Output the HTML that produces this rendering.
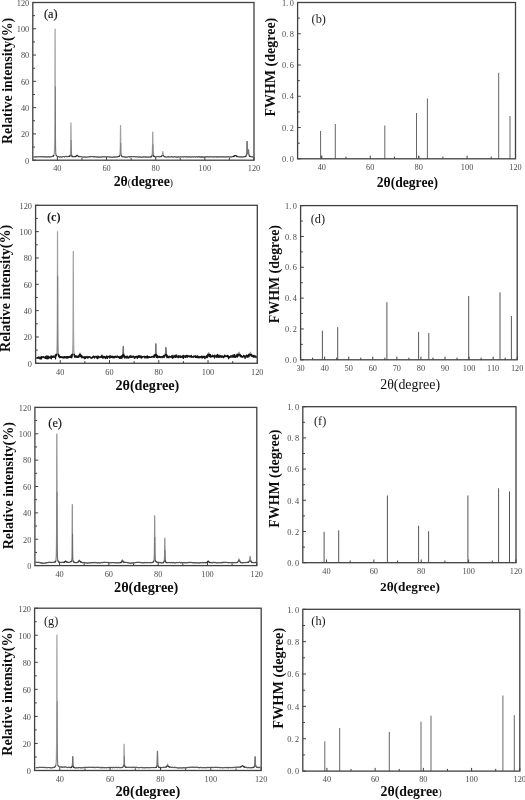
<!DOCTYPE html>
<html><head><meta charset="utf-8"><style>html,body{margin:0;padding:0;background:#fff;width:525px;height:800px;overflow:hidden}svg{display:block;filter:grayscale(1) blur(0.3px)}</style></head><body>
<svg width="525" height="800" viewBox="0 0 525 800">
<style>.tl{font-family:"Liberation Serif",serif;font-size:8.3px;fill:#4a4a4a}.ts{font-family:"Liberation Sans",sans-serif;font-size:7.6px;fill:#4a4a4a}.tt{font-family:"Liberation Serif",serif;font-weight:bold;fill:#0d0d0d}.ttr{font-family:"Liberation Serif",serif;fill:#111}.pl{font-family:"Liberation Serif",serif;fill:#1a1a1a}.pls{stroke:#1a1a1a;stroke-width:0.2px}</style>
<rect width="525" height="800" fill="#fff"/>
<clipPath id="cl1"><rect x="32.8" y="154.94" width="221.2" height="5.26"/></clipPath>
<defs><polyline id="cl1p" points="33.5,157.06 33.85,157.1 34.2,156.88 34.55,157.02 34.9,156.9 35.25,157.08 35.6,156.96 35.95,156.81 36.3,156.84 36.65,156.9 37,157.07 37.35,156.8 37.7,156.84 38.05,156.71 38.4,156.77 38.75,156.61 39.1,156.77 39.45,156.72 39.8,156.63 40.15,156.9 40.5,156.79 40.85,156.8 41.2,156.41 41.55,156.74 41.9,156.63 42.25,156.65 42.6,156.81 42.95,157.02 43.3,156.64 43.65,156.87 44,156.71 44.35,157.05 44.7,156.93 45.05,156.67 45.4,156.66 45.75,157.1 46.1,157.11 46.45,156.92 46.8,156.8 47.15,156.88 47.5,156.86 47.85,157.05 48.2,156.8 48.55,156.7 48.9,156.93 49.25,157.07 49.6,156.94 49.95,156.67 50.3,157.04 50.65,156.75 51,156.85 51.35,156.68 51.7,156.65 52.05,156.54 52.4,156.22 52.75,156.27 53.09,155.94 53.1,156.17 53.17,156.17 53.25,155.97 53.33,156.4 53.41,155.88 53.45,155.8 53.49,155.97 53.57,155.59 53.65,155.62 53.73,155.76 53.8,155.24 53.81,155.34 53.89,155.04 53.97,154.71 54.05,154.15 54.13,153.91 54.15,153.81 54.21,153.32 54.29,152.97 54.37,151.55 54.45,150.63 54.5,149.33 54.53,148.81 54.61,146.07 54.69,141.76 54.77,134.38 54.85,122.1 54.93,98.95 55.01,59.1 55.09,28.98 55.17,56.77 55.2,73.58 55.25,97.13 55.33,121.58 55.41,134.29 55.49,141.59 55.55,145.01 55.57,145.68 55.65,148.55 55.73,150.35 55.81,151.57 55.89,152.54 55.9,153.04 55.97,153.35 56.05,154.27 56.13,154.44 56.21,154.47 56.25,154.95 56.29,155.12 56.37,155.26 56.45,155.48 56.53,155.65 56.6,155.89 56.61,155.62 56.69,155.77 56.77,156.05 56.85,156.05 56.93,156.08 56.95,156.04 57.01,156.19 57.09,156.21 57.3,156.49 57.65,156.78 58,156.79 58.35,156.63 58.7,156.69 59.05,156.86 59.4,156.99 59.75,156.87 60.1,156.66 60.45,156.71 60.8,157.02 61.15,156.91 61.5,157.12 61.85,157.05 62.2,156.82 62.55,156.82 62.9,156.65 63.25,156.57 63.6,156.62 63.95,156.52 64.3,156.79 64.65,156.86 65,156.59 65.35,156.23 65.7,156.59 66.05,156.82 66.4,156.59 66.75,156.4 67.1,156.79 67.45,156.5 67.8,156.72 68.15,156.42 68.5,156.48 68.85,156.53 68.94,156.25 69.02,156.61 69.1,156.64 69.18,156.22 69.2,156.64 69.26,156.14 69.34,156.46 69.42,156.58 69.5,156.38 69.55,156.33 69.58,156.3 69.66,156.3 69.74,156.02 69.82,156.47 69.9,156.08 69.98,155.89 70.06,155.38 70.14,155.74 70.22,155.15 70.25,155.13 70.3,154.77 70.38,153.94 70.46,153.07 70.54,151.52 70.6,150.27 70.62,149.46 70.7,145.54 70.78,139.12 70.86,129.72 70.94,122.9 70.95,123.23 71.02,128.22 71.1,138.26 71.18,145.18 71.26,149.16 71.3,150.41 71.34,151.31 71.42,153.08 71.5,154.08 71.58,154.58 71.65,155.23 71.66,155.41 71.74,155.35 71.82,155.8 71.9,155.76 71.98,156.26 72,156.59 72.06,156.18 72.14,156.3 72.22,156.15 72.3,156.39 72.35,156.47 72.38,156.44 72.46,156.64 72.54,156.61 72.62,156.88 72.7,156.61 72.78,156.85 72.86,156.81 72.94,156.65 73.05,156.64 73.4,156.99 73.75,156.54 74.1,156.95 74.45,156.7 74.8,156.64 75.04,156.72 75.12,156.71 75.15,156.45 75.2,156.58 75.28,156.63 75.36,156.96 75.44,156.76 75.5,156.44 75.52,156.59 75.6,156.74 75.68,156.65 75.76,156.56 75.84,156.35 75.85,156.4 75.92,156.25 76,156.48 76.08,156.13 76.16,156.29 76.2,156.22 76.24,155.85 76.32,156.02 76.4,155.95 76.48,155.85 76.55,155.77 76.56,155.45 76.64,155.36 76.72,155.34 76.8,155.31 76.88,155.09 76.9,155.24 76.96,155.12 77.04,155.1 77.12,155.17 77.2,154.98 77.25,155.01 77.28,155.11 77.36,155.72 77.44,155.25 77.52,155.54 77.6,155.84 77.68,155.88 77.76,155.79 77.84,155.87 77.92,156 77.95,156.14 78,156.2 78.08,156.13 78.16,156.33 78.24,156.5 78.3,156.49 78.32,156.42 78.4,156.39 78.48,156.11 78.56,156.71 78.64,156.45 78.65,156.54 78.72,156.5 78.8,156.35 78.88,156.39 78.96,156.62 79,156.7 79.04,156.83 79.35,156.67 79.7,156.51 80.05,156.78 80.4,156.66 80.75,156.68 81.1,156.76 81.45,156.68 81.8,156.9 82.15,157.04 82.5,157.12 82.85,156.82 83.2,157.04 83.55,157.06 83.9,156.9 84.25,157.17 84.6,156.78 84.95,156.96 85.3,157.16 85.65,157.17 86,156.9 86.35,157.25 86.7,157.15 87.05,157.03 87.4,156.97 87.75,156.98 88.1,156.89 88.45,156.98 88.8,156.91 89.15,156.66 89.5,156.72 89.85,156.87 90.2,156.5 90.55,157.05 90.9,156.7 91.25,156.59 91.6,156.53 91.95,156.65 92.3,156.73 92.65,156.57 93,156.7 93.35,156.6 93.7,157.14 94.05,156.65 94.4,156.86 94.75,156.61 95.1,156.67 95.45,156.7 95.8,156.91 96.15,156.81 96.5,156.96 96.85,156.9 97.2,156.98 97.55,157.12 97.9,156.69 98.25,156.9 98.6,157.35 98.95,156.9 99.3,157.26 99.65,157.07 100,157.12 100.35,157.1 100.7,156.96 101.05,157.03 101.4,157.19 101.75,156.94 102.1,156.85 102.45,156.6 102.8,156.92 103.15,157.02 103.5,156.87 103.85,156.68 104.2,156.91 104.55,156.87 104.9,156.65 105.25,156.74 105.6,156.7 105.95,156.83 106.3,156.87 106.65,156.8 107,156.79 107.35,156.84 107.7,156.74 108.05,156.75 108.4,156.78 108.75,156.82 109.1,157.06 109.45,157.13 109.8,156.86 110.15,157.01 110.5,157.02 110.85,157.24 111.2,157.11 111.55,157.19 111.9,157.24 112.25,157.21 112.6,157.34 112.95,157.09 113.3,156.91 113.65,157.2 114,157.05 114.35,157.22 114.7,156.92 115.05,156.7 115.4,157.16 115.75,156.97 116.1,156.68 116.45,156.82 116.8,156.82 117.15,157.12 117.5,156.79 117.85,156.57 118.2,156.43 118.54,156.48 118.55,156.67 118.62,156.67 118.7,156.82 118.78,156.67 118.86,156.29 118.9,156.47 118.94,156.64 119.02,156.18 119.1,156.6 119.18,156.08 119.25,156.27 119.26,156.16 119.34,156.02 119.42,155.98 119.5,155.7 119.58,155.74 119.6,155.75 119.66,155.65 119.74,155.52 119.82,155.06 119.9,154.33 119.95,153.98 119.98,153.62 120.06,152.46 120.14,151.35 120.22,149.12 120.3,145.68 120.38,139.4 120.46,130.6 120.54,125.65 120.62,130.42 120.65,133.57 120.7,139.16 120.78,145.3 120.86,149.24 120.94,151.72 121,152.43 121.02,152.71 121.1,153.86 121.18,154.45 121.26,155.14 121.34,155.27 121.35,155.26 121.42,155.36 121.5,155.57 121.58,155.9 121.66,156.13 121.7,156.3 121.74,156.32 121.82,156.21 121.9,156.3 121.98,156.45 122.05,156.24 122.06,156.41 122.14,156.55 122.22,156.63 122.3,156.63 122.38,156.82 122.4,156.83 122.46,156.65 122.54,156.82 122.75,156.83 123.1,156.67 123.45,156.95 123.8,156.75 124.15,156.99 124.5,156.77 124.85,156.95 125.2,157.3 125.55,156.83 125.9,157.05 126.25,157.32 126.6,156.98 126.95,156.95 127.3,157.16 127.65,157.02 128,156.81 128.35,156.65 128.7,156.66 129.05,156.61 129.4,156.6 129.75,157.13 130.1,156.83 130.45,156.66 130.8,157.09 131.15,156.52 131.5,156.49 131.85,156.74 132.2,156.67 132.55,156.76 132.9,156.61 133.25,156.63 133.6,156.63 133.95,156.81 134.3,156.6 134.65,156.74 135,156.56 135.35,156.69 135.7,157 136.05,157.02 136.4,156.81 136.75,156.92 137.1,156.8 137.45,156.77 137.8,156.91 138.15,157.2 138.5,157.14 138.85,156.87 139.2,157.14 139.55,156.8 139.9,157 140.25,156.9 140.6,157.12 140.95,156.99 141.3,157.44 141.65,157 142,156.87 142.35,157.09 142.7,157.07 143.05,156.94 143.4,156.91 143.75,157.05 144.1,156.81 144.45,157.17 144.8,156.74 145.15,157.13 145.5,157.05 145.85,156.71 146.2,157.09 146.55,157.2 146.9,156.94 147.25,157.11 147.6,157.15 147.95,157.1 148.3,157.12 148.65,157.16 149,157.18 149.35,156.76 149.7,157.11 150.05,156.83 150.4,157.17 150.74,156.81 150.75,157.09 150.82,156.94 150.9,156.75 150.98,156.91 151.06,157.1 151.1,156.86 151.14,156.78 151.22,156.63 151.3,156.83 151.38,156.66 151.45,156.55 151.46,156.81 151.54,156.49 151.62,156.51 151.7,156.19 151.78,156.13 151.8,156.1 151.86,156.31 151.94,155.7 152.02,155.43 152.1,155.09 152.15,154.67 152.18,154.54 152.26,153.46 152.34,152.09 152.42,150.09 152.5,147.03 152.58,141.63 152.66,135.28 152.74,132.01 152.82,135.5 152.85,138.17 152.9,141.96 152.98,146.86 153.06,149.98 153.14,152.24 153.2,153.46 153.22,153.48 153.3,154.09 153.38,154.87 153.46,155.11 153.54,155.49 153.55,155.4 153.62,155.75 153.7,156.13 153.78,156.1 153.86,155.88 153.9,156.41 153.94,156.66 154.02,156.11 154.1,156.43 154.18,156.64 154.25,156.68 154.26,156.83 154.34,156.51 154.42,156.63 154.5,156.77 154.58,156.76 154.6,156.76 154.66,156.54 154.74,156.75 154.95,156.53 155.3,156.9 155.65,156.87 156,156.84 156.35,156.84 156.7,156.76 157.05,156.57 157.4,156.52 157.75,156.87 158.1,156.48 158.45,156.66 158.8,156.41 159.15,156.68 159.5,156.77 159.85,156.5 160.2,156.51 160.55,156.66 160.82,156.55 160.9,156.52 160.98,156.48 161.06,156.78 161.14,156.68 161.22,156.46 161.25,156.42 161.3,156.53 161.38,156.7 161.46,156.17 161.54,156.39 161.6,156.48 161.62,156.05 161.7,156.06 161.78,156.01 161.86,155.95 161.94,155.89 161.95,156.11 162.02,155.84 162.1,155.62 162.18,155.35 162.26,155.1 162.3,155.16 162.34,154.91 162.42,154.4 162.5,153.79 162.58,153.2 162.65,152.72 162.66,152.53 162.74,151.71 162.82,151.55 162.9,151.71 162.98,152.71 163,152.66 163.06,153.01 163.14,154.15 163.22,154.6 163.3,155.15 163.35,154.93 163.38,155.24 163.46,155.62 163.54,155.72 163.62,155.93 163.7,155.91 163.78,155.98 163.86,156.11 163.94,156.28 164.02,156.28 164.05,156.29 164.1,156.27 164.18,156.78 164.26,156.48 164.34,156.55 164.4,156.56 164.42,156.63 164.5,156.63 164.58,156.57 164.66,156.63 164.74,156.66 164.75,156.85 164.82,156.9 165.1,156.86 165.45,157.06 165.8,156.89 166.15,156.96 166.5,157.12 166.85,157.15 167.2,156.93 167.55,156.95 167.9,156.52 168.25,156.73 168.6,156.99 168.95,156.94 169.3,157.02 169.65,156.99 170,156.92 170.35,156.88 170.7,156.97 171.05,156.75 171.4,156.78 171.75,156.58 172.1,157.1 172.45,156.8 172.8,156.97 173.15,157.17 173.5,156.98 173.85,157.2 174.2,156.96 174.55,156.53 174.9,156.77 175.25,156.69 175.6,156.8 175.95,157.24 176.3,156.93 176.65,156.98 177,156.94 177.35,157.17 177.7,157.31 178.05,156.67 178.4,156.81 178.75,156.94 179.1,157.06 179.45,156.94 179.8,157.15 180.15,156.8 180.5,156.91 180.85,156.95 181.2,156.98 181.55,156.91 181.9,156.87 182.25,156.94 182.6,156.72 182.95,156.83 183.3,156.87 183.65,156.99 184,156.66 184.35,156.64 184.7,156.74 185.05,157.14 185.4,156.9 185.75,156.7 186.1,156.85 186.45,156.66 186.8,156.94 187.15,156.75 187.5,156.8 187.85,157.28 188.2,156.96 188.55,156.94 188.9,157.01 189.25,157.06 189.6,156.67 189.95,156.95 190.3,156.81 190.65,157.15 191,157.26 191.35,157.01 191.7,156.88 192.05,157.05 192.4,156.86 192.75,156.81 193.1,157.01 193.45,156.95 193.8,157.05 194.15,156.76 194.5,156.65 194.85,156.85 195.2,157.01 195.55,157.04 195.9,156.98 196.25,156.79 196.6,157.06 196.95,156.71 197.3,157.13 197.65,156.95 198,156.74 198.35,156.67 198.7,157.02 199.05,156.83 199.4,156.56 199.75,156.78 200.1,157.31 200.45,156.92 200.8,156.59 201.15,157.15 201.5,156.82 201.85,157.29 202.2,156.71 202.55,157.09 202.9,156.82 203.25,156.79 203.6,157.37 203.95,157.15 204.3,156.86 204.65,157.14 205,156.89 205.35,157.03 205.7,156.66 206.05,156.94 206.4,157 206.75,156.74 207.1,156.65 207.45,156.86 207.8,156.78 208.15,156.75 208.5,156.9 208.85,157.01 209.2,156.74 209.55,156.88 209.9,157.04 210.25,156.7 210.6,156.77 210.95,156.82 211.3,156.97 211.65,156.89 212,156.77 212.35,156.8 212.7,157.01 213.05,157.03 213.4,156.84 213.75,156.87 214.1,156.77 214.45,157.09 214.8,156.77 215.15,156.63 215.5,156.76 215.85,156.89 216.2,156.77 216.55,157.11 216.9,156.98 217.25,156.58 217.6,157.16 217.95,157.08 218.3,156.76 218.65,156.99 219,156.97 219.35,157.05 219.7,156.6 220.05,156.96 220.4,156.91 220.75,157.15 221.1,156.74 221.45,156.86 221.8,156.78 222.15,156.61 222.5,156.84 222.85,157.06 223.2,157.03 223.55,156.87 223.9,156.68 224.25,157.08 224.6,156.94 224.95,156.92 225.3,156.8 225.65,157.05 226,156.87 226.35,156.8 226.7,156.93 227.05,156.94 227.4,156.83 227.75,156.83 228.1,156.72 228.45,157.08 228.8,156.71 229.15,156.93 229.5,157.06 229.85,156.96 230.2,157.05 230.55,156.87 230.9,156.65 231.25,157.14 231.6,156.94 231.95,156.6 232.3,156.72 232.65,156.49 233,156.75 233.32,156.46 233.35,156.86 233.4,156.56 233.48,156.29 233.56,156.18 233.64,156.09 233.7,156.33 233.72,156.45 233.8,156.34 233.88,156.55 233.96,155.99 234.04,155.98 234.05,156.31 234.12,155.84 234.2,156.3 234.28,155.95 234.36,156.12 234.4,156.25 234.44,155.89 234.52,156.09 234.6,155.67 234.68,155.95 234.75,155.76 234.76,155.85 234.84,155.71 234.92,155.8 235,155.54 235.08,155.54 235.1,155.63 235.16,155.64 235.24,155.3 235.32,155.72 235.4,155.68 235.45,155.5 235.48,155.63 235.56,155.9 235.64,155.69 235.72,155.76 235.8,155.9 235.88,155.75 235.96,156 236.04,155.91 236.12,156.1 236.15,155.69 236.2,156.01 236.28,155.94 236.36,156.01 236.44,155.99 236.5,156.16 236.52,156.03 236.6,156.17 236.68,156.62 236.76,156.22 236.84,156.51 236.85,156.16 236.92,156.31 237,156.44 237.08,156.81 237.16,156.77 237.2,156.64 237.24,156.52 237.32,156.71 237.55,156.25 237.9,156.57 238.25,156.72 238.6,156.91 238.95,156.85 239.3,156.86 239.65,156.92 240,156.88 240.35,156.75 240.7,157.16 241.05,156.86 241.4,156.72 241.75,157.11 242.1,156.91 242.45,156.93 242.8,157.04 243.15,156.69 243.5,156.87 243.85,156.61 244.2,156.69 244.55,156.75 244.9,156.59 245.12,156.64 245.2,156.81 245.25,156.31 245.28,156.47 245.36,156.31 245.44,156.75 245.52,156.26 245.6,156.25 245.68,156.34 245.76,156.61 245.84,156.19 245.92,156.23 245.95,156.12 246,156.02 246.08,156.06 246.16,155.79 246.24,155.6 246.3,155.2 246.32,155.39 246.4,154.71 246.47,154.94 246.48,154.73 246.55,154.06 246.56,154.43 246.63,153.47 246.64,153.4 246.65,153.45 246.71,152.62 246.72,152.19 246.79,151.23 246.8,150.89 246.87,149.01 246.88,148.58 246.95,146.57 246.96,146.08 247,144.45 247.03,143.16 247.04,142.68 247.11,141.24 247.12,141.4 247.19,142.26 247.2,142.83 247.27,145.33 247.28,145.95 247.35,148.19 247.36,148.75 247.43,150.28 247.44,150.54 247.51,151.6 247.52,152.1 247.59,153.02 247.6,152.79 247.67,153.37 247.68,153.56 247.7,153.79 247.75,153.64 247.76,154.11 247.83,154 247.84,153.77 247.91,153.96 247.92,153.83 247.99,153.66 248,153.61 248.05,153.32 248.07,153.28 248.08,153.38 248.15,152.99 248.16,152.75 248.23,152.08 248.24,151.79 248.31,150.78 248.32,150.72 248.39,150.17 248.4,149.94 248.47,149.7 248.48,149.79 248.55,149.96 248.56,150.18 248.63,151.14 248.64,151.53 248.71,152.73 248.72,152.56 248.75,152.64 248.79,153.31 248.8,153.38 248.87,154.06 248.88,154.02 248.95,154.57 248.96,154.36 249.03,155 249.04,155.06 249.1,155.03 249.11,155.17 249.12,155.21 249.19,155.44 249.27,155.71 249.35,155.8 249.43,155.88 249.45,155.97 249.51,156.35 249.59,155.91 249.67,156.27 249.75,156.34 249.8,156.33 249.83,156.41 249.91,156.47 249.99,156.38 250.07,156.26 250.15,156.47 250.23,156.37 250.31,156.68 250.39,156.37 250.47,156.68 250.5,156.4 250.85,156.68 251.2,156.7 251.55,156.83 251.9,156.86 252.25,156.71 252.6,156.85 252.95,156.75 253.3,156.55" fill="none" stroke-linejoin="round"/></defs>
<use href="#cl1p" stroke="#a0a0a0" stroke-width="1.2"/>
<path d="M55.44 155.6V86.44M71.29 155.6V139.96M120.89 155.6V142.9M153.09 155.6V144.3" stroke="#000" stroke-opacity="0.28" stroke-width="1" fill="none"/>
<use href="#cl1p" stroke="#262626" stroke-width="0.8" clip-path="url(#cl1)"/>
<clipPath id="cl1s"><rect x="244.62" y="2.5" width="5" height="152.44"/></clipPath>
<use href="#cl1p" stroke="#707070" stroke-width="1.0" clip-path="url(#cl1s)"/>
<rect x="32.8" y="2.5" width="221.2" height="157.7" fill="none" stroke="#404040" stroke-width="1.3"/>
<path d="M57.38 160.2v-3.2M106.53 160.2v-3.2M155.69 160.2v-3.2M204.84 160.2v-3.2M254 160.2v-3.2M81.96 160.2v-2.2M131.11 160.2v-2.2M180.27 160.2v-2.2M229.42 160.2v-2.2" stroke="#404040" stroke-width="1" fill="none"/>
<text x="57.38" y="171.4" class="tl" text-anchor="middle">40</text>
<text x="106.53" y="171.4" class="tl" text-anchor="middle">60</text>
<text x="155.69" y="171.4" class="tl" text-anchor="middle">80</text>
<text x="204.84" y="171.4" class="tl" text-anchor="middle">100</text>
<text x="254" y="171.4" class="tl" text-anchor="middle">120</text>
<path d="M32.8 160.2h3.2M32.8 133.92h3.2M32.8 107.63h3.2M32.8 81.35h3.2M32.8 55.07h3.2M32.8 28.78h3.2M32.8 2.5h3.2M32.8 147.06h2.2M32.8 120.77h2.2M32.8 94.49h2.2M32.8 68.21h2.2M32.8 41.92h2.2M32.8 15.64h2.2" stroke="#404040" stroke-width="1" fill="none"/>
<text x="29.2" y="163.5" class="tl" text-anchor="end">0</text>
<text x="29.2" y="137.22" class="tl" text-anchor="end">20</text>
<text x="29.2" y="110.93" class="tl" text-anchor="end">40</text>
<text x="29.2" y="84.65" class="tl" text-anchor="end">60</text>
<text x="29.2" y="58.37" class="tl" text-anchor="end">80</text>
<text x="29.2" y="32.08" class="tl" text-anchor="end">100</text>
<text x="29.2" y="5.8" class="tl" text-anchor="end">120</text>
<text transform="translate(11.6,80.85) rotate(-90)" text-anchor="middle" class="tt" font-size="13.9">Relative intensity(%)</text>
<text x="113.7" y="186.3" class="tt" font-size="13.8"><tspan>2θ</tspan><tspan font-size="9.5" font-weight="normal">(</tspan><tspan>degree</tspan><tspan font-size="9.5" font-weight="normal">)</tspan></text>
<text x="44" y="17.7" class="pl pls" font-size="12.3">(a)</text>
<clipPath id="cl2"><rect x="35.6" y="353.82" width="221.7" height="9.48"/></clipPath>
<defs><polyline id="cl2p" points="36.6,358.57 36.9,357.65 37.2,357.61 37.5,357.71 37.8,357.45 38.1,358.37 38.4,357.54 38.7,357.32 39,356.98 39.3,358.02 39.6,357.71 39.9,358.76 40.2,357.75 40.5,358.85 40.8,358.32 41.1,356.64 41.4,358.79 41.7,356.8 42,357.09 42.3,357.49 42.6,356.96 42.9,356.9 43.2,356.54 43.5,357.37 43.8,357.59 44.1,357.59 44.4,357.83 44.7,357.21 45,357.69 45.3,356.47 45.6,358.41 45.9,357.9 46.2,357.81 46.5,358.57 46.8,355.95 47.1,358.8 47.4,357.41 47.7,357.58 48,356.15 48.3,358.56 48.6,356.55 48.9,357.74 49.2,357.37 49.5,357.71 49.8,356.84 50.1,358.01 50.4,357.3 50.7,357.01 51,356.02 51.3,358.79 51.6,356.19 51.9,356.54 52.2,357.46 52.5,356.91 52.8,357.38 53.1,355.96 53.4,356.86 53.7,357.1 54,357.05 54.3,356.98 54.6,356.89 54.9,357.26 55.2,355.21 55.5,357.66 55.52,358.76 55.6,356.41 55.68,356.36 55.76,355.94 55.8,356.28 55.84,356.2 55.92,355.79 56,355.25 56.08,356.05 56.1,355.97 56.16,354.33 56.24,355.07 56.32,355.85 56.4,353.4 56.48,354.09 56.56,354.57 56.64,354.43 56.7,352.96 56.72,353.51 56.8,352.74 56.88,351.64 56.96,349.34 57,347.09 57.04,346.65 57.12,343.2 57.2,334.98 57.28,323.27 57.3,318.37 57.36,299.89 57.44,262.09 57.52,231.68 57.6,257.99 57.68,298.59 57.76,321.37 57.84,333.72 57.9,340.24 57.92,341.96 58,346.29 58.08,349.39 58.16,351.26 58.2,351.7 58.24,352.59 58.32,353.28 58.4,354.75 58.48,354.03 58.5,354.34 58.56,355.45 58.64,356.55 58.72,355.33 58.8,354.83 58.88,356.23 58.96,356.23 59.04,356.43 59.1,355.72 59.12,356.78 59.2,355.64 59.28,356.58 59.36,355.85 59.4,356.48 59.44,356.69 59.52,357.58 59.7,357.18 60,357.06 60.3,356.57 60.6,356.93 60.9,357.63 61.2,356.95 61.5,356.62 61.8,357.4 62.1,357.62 62.4,357.61 62.7,356.83 63,357.02 63.3,357.98 63.6,357.12 63.9,357.67 64.2,357.83 64.5,356.5 64.8,356.75 65.1,357.74 65.4,357.18 65.7,356.87 66,357.59 66.3,357.22 66.6,356.67 66.9,358.25 67.2,356.83 67.5,356.53 67.8,356.66 68.1,357.85 68.4,356.73 68.7,357.49 69,356.53 69.3,356.49 69.6,356.72 69.9,357.34 70.2,357.2 70.5,356.21 70.8,357.31 71.1,356.3 71.29,356.21 71.37,356.69 71.4,354.91 71.45,356.41 71.53,354.98 71.61,357.66 71.69,357.73 71.7,355.6 71.77,355.75 71.85,356.26 71.93,355.97 72,357.05 72.01,356.2 72.09,356.28 72.17,355.52 72.25,354.51 72.3,354.85 72.33,354.5 72.41,354.75 72.49,353.99 72.57,352.85 72.6,352.74 72.65,351.01 72.73,350.87 72.81,346.76 72.89,345.08 72.9,343.15 72.97,338.99 73.05,326.78 73.13,307.93 73.2,279.03 73.21,274.14 73.29,251.45 73.37,276.26 73.45,310.03 73.5,321.51 73.53,328.71 73.61,339.1 73.69,344.61 73.77,346.83 73.8,350.24 73.85,350.25 73.93,352.21 74.01,352.68 74.09,355 74.1,354.16 74.17,353.86 74.25,353.84 74.33,354.17 74.4,356.04 74.41,355.47 74.49,355.81 74.57,356.84 74.65,357.04 74.7,355.68 74.73,356.06 74.81,356.43 74.89,355.63 74.97,357.17 75,356.19 75.05,356.58 75.13,356.68 75.21,356.38 75.29,356.63 75.3,356.57 75.6,356.7 75.9,355.67 76.2,357.2 76.5,356.34 76.8,356.61 77.1,357.22 77.4,356.43 77.7,357.46 77.94,356.07 78,357.35 78.02,357.13 78.1,356.57 78.18,356.2 78.26,356.12 78.3,356.11 78.34,356.81 78.42,357.26 78.5,356.22 78.58,356.33 78.6,357.14 78.66,355.82 78.74,356.26 78.82,356.94 78.9,355.92 78.98,356.97 79.06,356.55 79.14,355.56 79.2,356.73 79.22,355.63 79.3,356.35 79.38,354.75 79.46,355.47 79.5,354.73 79.54,355.7 79.62,354.66 79.7,353.54 79.78,353.63 79.8,355.1 79.86,353.17 79.94,353.13 80.02,354.02 80.1,352.99 80.18,354.84 80.26,354.46 80.34,353.95 80.4,354.02 80.42,354.1 80.5,355.91 80.58,356.58 80.66,355.34 80.7,356.62 80.74,355.85 80.82,356.74 80.9,355.32 80.98,355.6 81,355.78 81.06,356.2 81.14,356.26 81.22,356.56 81.3,356.17 81.38,356.31 81.46,356.21 81.54,356.84 81.6,355.33 81.62,356.41 81.7,355.71 81.78,355.78 81.86,357.26 81.9,357.8 81.94,355.87 82.2,357.02 82.5,356.77 82.8,357.05 83.1,356.84 83.4,357.75 83.7,357.07 84,357.34 84.3,357.08 84.6,358.64 84.9,356.6 85.2,356.95 85.5,358.33 85.8,357.71 86.1,357.23 86.4,356.85 86.7,357.28 87,356.39 87.3,357.3 87.6,357.98 87.9,357.77 88.2,356.83 88.5,357.72 88.8,356.76 89.1,356.63 89.4,356.91 89.7,356.61 90,357.38 90.3,357.26 90.6,357.62 90.9,357.62 91.2,358.23 91.5,357.55 91.8,357.87 92.1,358.09 92.4,357.04 92.7,356.82 93,357.33 93.3,356.2 93.6,356.47 93.9,356.4 94.2,357.48 94.5,358.06 94.8,356.71 95.1,356.87 95.4,356.59 95.7,356.8 96,356.24 96.3,357.26 96.6,356.63 96.9,357.66 97.2,358.59 97.5,357.36 97.8,356.08 98.1,358.16 98.4,356.38 98.7,357.49 99,357.29 99.3,356.99 99.6,356.87 99.9,357.63 100.2,356.89 100.5,356.66 100.8,356.39 101.1,357.42 101.4,355.88 101.7,355.63 102,355.28 102.3,357.74 102.6,356.73 102.9,358.05 103.2,356.57 103.5,356.45 103.8,357.56 104.1,357.85 104.4,356.68 104.7,356.4 105,357.34 105.3,357 105.6,358.5 105.9,357.32 106.2,356.78 106.5,356.79 106.8,355.87 107.1,357.68 107.4,358.44 107.7,356.68 108,357.38 108.3,356.83 108.6,356.56 108.9,356.66 109.2,356.12 109.5,356.19 109.8,358.19 110.1,357.15 110.4,355.79 110.7,357.38 111,356.48 111.3,357.15 111.6,357.39 111.9,356.07 112.2,356.42 112.5,357.26 112.8,356.49 113.1,357.95 113.4,357.55 113.7,356.48 114,357.04 114.3,357.76 114.6,356.76 114.9,356.84 115.2,356.21 115.5,356.43 115.8,357.25 116.1,357.4 116.4,357.18 116.7,357.26 117,356.16 117.3,356.1 117.6,356.27 117.9,356.94 118.2,357.37 118.5,356.64 118.8,357.48 119.1,357.12 119.4,358.39 119.7,357.59 120,356.37 120.3,358 120.6,358.31 120.9,357.42 121.2,356.19 121.29,356.32 121.37,357.5 121.45,357.56 121.5,357.31 121.53,357.84 121.61,357.18 121.69,357.38 121.77,358.12 121.8,357.52 121.85,357.29 121.93,357.65 122.01,357.77 122.09,356.38 122.1,355.72 122.17,357.1 122.25,357.11 122.33,356.4 122.4,356.78 122.41,357.13 122.49,355.54 122.57,356.93 122.65,356.46 122.7,356.2 122.73,356.19 122.81,355.25 122.89,353.98 122.97,352.34 123,352.34 123.05,351.71 123.13,350.45 123.21,347.39 123.29,346.78 123.3,346.23 123.37,346.46 123.45,349.19 123.53,351.61 123.6,353.4 123.61,353.09 123.69,354.1 123.77,355.54 123.85,355.78 123.9,355.11 123.93,356.91 124.01,356.37 124.09,357.04 124.17,355.41 124.2,356.07 124.25,356.2 124.33,356.36 124.41,356.5 124.49,356.55 124.5,357.79 124.57,356.62 124.65,356.43 124.73,357.78 124.8,356.32 124.81,356.42 124.89,357.88 124.97,357.2 125.05,357.1 125.1,357.25 125.13,356.65 125.21,357.75 125.29,357.06 125.4,356.76 125.7,356.42 126,356.84 126.3,357 126.6,356.35 126.9,358.09 127.2,356.13 127.5,356.92 127.8,357.51 128.1,356.95 128.4,357.85 128.7,357.98 129,356.83 129.3,357.12 129.6,356.13 129.9,357.2 130.2,357.47 130.5,357.26 130.8,355.51 131.1,356.64 131.4,357.08 131.7,357.35 132,357.44 132.3,356.85 132.6,356.48 132.9,356.02 133.2,356.05 133.5,356.64 133.8,357.27 134.1,357.41 134.4,358.38 134.7,357.53 135,356.59 135.3,357.09 135.6,356.62 135.9,357.74 136.2,356.25 136.5,356.64 136.8,356.79 137.1,356.54 137.4,358.26 137.7,357.14 138,357.35 138.3,355.55 138.6,356.85 138.9,357.05 139.2,356.14 139.5,357.39 139.8,355.75 140.1,357.15 140.4,356.73 140.7,357.3 141,356.17 141.3,358.14 141.6,356.28 141.9,357.29 142.2,356.74 142.5,357.56 142.8,356.68 143.1,356.74 143.4,356.5 143.7,356.72 144,356.55 144.3,356.34 144.6,357.28 144.9,357.83 145.2,357.92 145.5,356.66 145.8,357.38 146.1,356.46 146.4,357.14 146.7,357.85 147,356.6 147.3,355.92 147.6,357.32 147.9,357.82 148.2,357.75 148.5,356.6 148.8,357.56 149.1,357.43 149.4,356.69 149.7,357.12 150,357.03 150.3,357.44 150.6,357.47 150.9,356.92 151.2,356.9 151.5,356.59 151.8,357.28 152.1,356.7 152.4,356.59 152.7,356.82 153,356.47 153.3,356.15 153.6,356.65 153.81,356.7 153.89,357.38 153.9,356.52 153.97,356.79 154.05,356.91 154.13,357.24 154.2,356.3 154.21,354.99 154.29,356.36 154.37,356.57 154.45,356.31 154.5,356.96 154.53,356.49 154.61,356.95 154.69,356.89 154.77,356.25 154.8,356.22 154.85,356.4 154.93,356.75 155.01,355.93 155.09,356.65 155.1,355.41 155.17,355.94 155.25,355.4 155.33,354.44 155.4,354.02 155.41,355.14 155.49,353.4 155.57,351.32 155.65,349.66 155.7,348.42 155.73,345.62 155.81,343.71 155.89,345.24 155.97,348.83 156,349.91 156.05,351.37 156.13,352.31 156.21,353.95 156.29,354.59 156.3,355.27 156.37,354.65 156.45,355.82 156.53,355.44 156.6,357.46 156.61,355.93 156.69,356.28 156.77,356.61 156.85,355.54 156.9,356.16 156.93,356.54 157.01,356.84 157.09,355.3 157.17,356.08 157.2,356.15 157.25,357.1 157.33,355.76 157.41,356.27 157.49,356.83 157.5,356.73 157.57,357.74 157.65,356.25 157.73,357.41 157.8,356.15 157.81,356.99 158.1,357.13 158.4,356.5 158.7,356.61 159,357.49 159.3,356.79 159.6,356.34 159.9,356.89 160.2,357.6 160.5,356.86 160.8,357.32 161.1,357.06 161.4,356.63 161.7,356.69 162,356.78 162.3,357.71 162.6,356.38 162.9,356.73 163.2,356.85 163.5,356.46 163.8,355.28 163.91,357.37 163.99,357.57 164.07,356.01 164.1,357.02 164.15,355.64 164.23,357.13 164.31,356.78 164.39,355.9 164.4,355.84 164.47,356.13 164.55,356.09 164.63,356.44 164.7,356.61 164.71,356.45 164.79,355.44 164.87,355.75 164.95,356.12 165,355.87 165.03,355.49 165.11,355.14 165.19,355.84 165.27,355.58 165.3,355.21 165.35,353.52 165.43,354.65 165.51,353.37 165.59,354.32 165.6,352.62 165.67,352.94 165.75,350.98 165.83,348.84 165.9,347.65 165.91,347.42 165.99,348.18 166.07,350.13 166.15,352.32 166.2,351.21 166.23,353.09 166.31,353.81 166.39,353.54 166.47,354.67 166.5,355.05 166.55,355.4 166.63,354.62 166.71,356.72 166.79,356.77 166.8,356.07 166.87,357.58 166.95,356.85 167.03,355.67 167.1,356.76 167.11,356.36 167.19,356.06 167.27,357.32 167.35,356.42 167.4,357.02 167.43,357.34 167.51,356.83 167.59,356.71 167.67,356.96 167.7,357.14 167.75,356.1 167.83,355.99 167.91,356.39 168,356.83 168.3,357.5 168.6,357.38 168.9,357.6 169.2,356.76 169.5,356.31 169.8,356.32 170.1,356.94 170.4,357.17 170.7,356.8 171,356.83 171.3,356.51 171.6,355.92 171.9,357.32 172.2,355.49 172.5,358.2 172.8,357.98 173.1,357.78 173.4,357.44 173.7,356.91 174,355.39 174.3,357.18 174.6,355.99 174.9,356.93 175.2,356.59 175.5,357.34 175.8,355.19 176.1,356.7 176.4,357.08 176.7,355.2 177,356.57 177.3,356.43 177.6,356.81 177.9,357.27 178.2,357.68 178.5,356.87 178.8,355.72 179.1,356.52 179.4,356.92 179.7,356.13 180,357.44 180.3,355.95 180.6,356.87 180.9,357.4 181.2,356.42 181.5,356.52 181.8,357.08 182.1,356.7 182.4,356.19 182.7,355.89 183,357.34 183.3,358.48 183.6,355.4 183.9,356.88 184.2,356.95 184.5,356.36 184.8,356.89 185.1,355.89 185.4,357.35 185.7,356.64 186,357.3 186.3,355.46 186.6,356.59 186.9,355.69 187.2,355.49 187.5,357.16 187.8,356.52 188.1,355.91 188.4,356.35 188.7,356.48 189,355.85 189.3,355.82 189.6,356.83 189.9,356.56 190.2,356.08 190.5,356.39 190.8,356.47 191.1,357.33 191.4,355.49 191.7,356.83 192,356.54 192.3,356.77 192.6,356.74 192.9,356.72 193.2,357.39 193.5,356.63 193.8,356.11 194.1,356.65 194.4,356.46 194.7,356.62 195,356.92 195.3,355.76 195.6,357.38 195.9,356.68 196.2,356.25 196.5,356.71 196.8,357.57 197.1,357.58 197.4,355.83 197.7,357.45 198,356.8 198.3,356.42 198.6,356.69 198.9,357.89 199.2,357.95 199.5,356.76 199.8,357.19 200.1,356.84 200.4,356.6 200.7,356.54 201,357.52 201.3,357.74 201.6,356.03 201.9,357.06 202.2,357.42 202.5,357.97 202.8,356.32 203.1,357.51 203.4,357.38 203.7,356.3 204,356.51 204.3,356.35 204.6,357.55 204.9,358.59 205.2,357.35 205.5,356.89 205.8,357.1 206.1,356.05 206.4,356.33 206.53,357.22 206.61,356.14 206.69,356.58 206.7,356.79 206.77,355.72 206.85,357.51 206.93,355.7 207,355.63 207.01,357.68 207.09,356.41 207.17,356.34 207.25,356.91 207.3,356.51 207.33,356.64 207.41,355.98 207.49,356.3 207.57,357.24 207.6,355.01 207.65,355.13 207.73,356.14 207.81,354.88 207.89,353.97 207.9,356.29 207.97,355.39 208.05,355.27 208.13,354.38 208.2,354.78 208.21,355.48 208.29,353.56 208.37,354.46 208.45,353.68 208.5,352.63 208.53,354.62 208.61,354.43 208.69,353.64 208.77,354.44 208.8,354.08 208.85,354.53 208.93,352.86 209.01,354.46 209.09,354.83 209.1,354.99 209.17,354.96 209.25,356.43 209.33,355.67 209.4,355.1 209.41,356.4 209.49,355.68 209.57,355.86 209.65,356.21 209.7,354.27 209.73,355.47 209.81,355.78 209.89,356.57 209.97,356.04 210,356.31 210.05,356.19 210.13,356.02 210.21,354.55 210.29,355.34 210.3,355.1 210.37,355.34 210.45,354.4 210.53,356.71 210.6,357.13 210.9,356.19 211.2,356.18 211.5,356.34 211.8,356.78 212.1,355.92 212.4,355.23 212.7,356.22 213,356.52 213.3,355.58 213.6,356.57 213.9,356.6 214.2,356.17 214.5,357.88 214.8,355.14 215.1,356.46 215.4,356.06 215.7,356.2 216,356.15 216.3,357.3 216.6,355.26 216.9,356.06 217.2,356.24 217.5,354.37 217.8,357.28 218.1,355.96 218.4,356.51 218.7,357.43 219,355.16 219.3,357.45 219.6,356.33 219.9,356.47 220.2,356.29 220.5,357.02 220.8,355.49 221.1,356.22 221.4,357.22 221.7,357.17 222,356.18 222.3,357.12 222.6,356.07 222.9,356.14 223.2,356.74 223.5,357.63 223.8,357.23 224.1,356.14 224.4,356.73 224.7,355.18 225,356.71 225.3,356.18 225.6,356 225.9,356.41 226.2,356.28 226.5,355.84 226.8,356.62 227.1,356.32 227.4,356.8 227.7,355.26 228,356.48 228.3,356.06 228.6,358.58 228.9,356.95 229.2,357.38 229.5,356.61 229.8,356.93 230.1,357.32 230.4,356.81 230.7,356.08 231,355.9 231.3,356.94 231.6,355.87 231.9,356.96 232.2,356.12 232.5,357.08 232.8,355.8 233.1,354.94 233.4,356.63 233.7,355.61 234,357.35 234.3,356.79 234.6,354.59 234.9,356.36 235.2,355.95 235.5,357.32 235.8,356.22 236.1,356.67 236.4,355.3 236.7,356.35 237,354.19 237.07,356.55 237.15,355.57 237.23,357.05 237.3,355.95 237.31,354.87 237.39,355.68 237.47,356.4 237.55,355.14 237.6,354.79 237.63,355.09 237.71,354.64 237.79,356.12 237.87,353.87 237.9,354.56 237.95,356.33 238.03,353.57 238.11,354.96 238.19,354.15 238.2,355.77 238.27,354.73 238.35,355.33 238.43,353.37 238.5,353.9 238.51,354.33 238.59,353.77 238.67,352.59 238.75,353.67 238.8,352.68 238.83,353.78 238.91,353.99 238.99,353.14 239.07,352.99 239.1,352.68 239.15,352.21 239.23,353.18 239.31,353.27 239.39,352.69 239.4,352.93 239.47,353.41 239.55,353.42 239.63,355.23 239.7,354.34 239.71,355.06 239.79,354.44 239.87,353.81 239.95,355.7 240,354.1 240.03,355.14 240.11,355.07 240.19,355.38 240.27,354.75 240.3,355.7 240.35,356.7 240.43,355.23 240.51,355.65 240.59,355.23 240.6,355.26 240.67,356.52 240.75,355.67 240.83,355.79 240.9,355.97 240.91,355.87 240.99,355.78 241.07,356.4 241.2,356.21 241.5,355.6 241.8,357.03 242.1,356.44 242.4,357.1 242.7,357.15 243,356.73 243.3,356.34 243.6,355.44 243.9,356.55 244.2,355.78 244.5,356 244.8,356.28 245.1,358.33 245.4,356.17 245.7,356.17 246,356.86 246.3,356.04 246.6,355.12 246.9,356.81 247.2,356.34 247.5,355.36 247.8,357.09 248.1,356.53 248.4,355.57 248.48,355.11 248.56,354.91 248.64,355.18 248.7,354.14 248.72,355.39 248.8,356.46 248.88,355.69 248.96,355.11 249,355.25 249.04,356.74 249.12,355.15 249.2,355.86 249.28,355.39 249.3,354.27 249.36,355.27 249.44,355.5 249.52,355.03 249.6,355.24 249.68,353.32 249.76,353.96 249.84,353.72 249.9,354.63 249.92,354.55 250,353.77 250.08,355.17 250.16,352.89 250.2,354.33 250.24,353.35 250.32,353.11 250.4,353.82 250.48,353.1 250.5,352.9 250.56,352.19 250.64,353.33 250.72,352.58 250.8,353.67 250.88,354.32 250.96,353.83 251.04,354.93 251.1,354.62 251.12,354.35 251.2,354.17 251.28,354.88 251.36,356.15 251.4,354.4 251.44,355.19 251.52,355.6 251.6,356.03 251.68,355.19 251.7,355.37 251.76,355.2 251.84,355.79 251.92,354.75 252,355.99 252.08,355.59 252.16,355.77 252.24,355.24 252.3,356.42 252.32,356.17 252.4,356.15 252.6,356.51 252.9,356.59 253.2,357.01 253.5,355.77 253.8,355.32 254.1,356.97 254.4,355.83 254.7,357.11 255,356.89 255.3,356.57 255.6,356.27 255.9,356.05 256.2,357.61 256.5,357.19" fill="none" stroke-linejoin="round"/></defs>
<use href="#cl2p" stroke="#a0a0a0" stroke-width="1.2"/>
<path d="M57.87 356.06V275.73" stroke="#000" stroke-opacity="0.28" stroke-width="1" fill="none"/>
<use href="#cl2p" stroke="#141414" stroke-width="1.25" clip-path="url(#cl2)"/>
<clipPath id="cl2s"><rect x="120.79" y="205.3" width="5" height="148.52"/><rect x="153.31" y="205.3" width="5" height="148.52"/><rect x="163.41" y="205.3" width="5" height="148.52"/></clipPath>
<use href="#cl2p" stroke="#707070" stroke-width="1.0" clip-path="url(#cl2s)"/>
<rect x="35.6" y="205.3" width="221.7" height="158" fill="none" stroke="#404040" stroke-width="1.3"/>
<path d="M60.23 363.3v-3.2M109.5 363.3v-3.2M158.77 363.3v-3.2M208.03 363.3v-3.2M257.3 363.3v-3.2M84.87 363.3v-2.2M134.13 363.3v-2.2M183.4 363.3v-2.2M232.67 363.3v-2.2" stroke="#404040" stroke-width="1" fill="none"/>
<text x="60.23" y="374.5" class="tl" text-anchor="middle">40</text>
<text x="109.5" y="374.5" class="tl" text-anchor="middle">60</text>
<text x="158.77" y="374.5" class="tl" text-anchor="middle">80</text>
<text x="208.03" y="374.5" class="tl" text-anchor="middle">100</text>
<text x="257.3" y="374.5" class="tl" text-anchor="middle">120</text>
<path d="M35.6 363.3h3.2M35.6 336.97h3.2M35.6 310.63h3.2M35.6 284.3h3.2M35.6 257.97h3.2M35.6 231.63h3.2M35.6 205.3h3.2M35.6 350.13h2.2M35.6 323.8h2.2M35.6 297.47h2.2M35.6 271.13h2.2M35.6 244.8h2.2M35.6 218.47h2.2" stroke="#404040" stroke-width="1" fill="none"/>
<text x="32" y="366.6" class="tl" text-anchor="end">0</text>
<text x="32" y="340.27" class="tl" text-anchor="end">20</text>
<text x="32" y="313.93" class="tl" text-anchor="end">40</text>
<text x="32" y="287.6" class="tl" text-anchor="end">60</text>
<text x="32" y="261.27" class="tl" text-anchor="end">80</text>
<text x="32" y="234.93" class="tl" text-anchor="end">100</text>
<text x="32" y="208.6" class="tl" text-anchor="end">120</text>
<text transform="translate(10,288.4) rotate(-90)" text-anchor="middle" class="tt" font-size="14.0">Relative intensity(%)</text>
<text x="115.4" y="389.8" class="tt" font-size="14.2">2θ(degree)</text>
<text x="46.9" y="220.7" class="pl" font-size="12.3" font-weight="bold">(c)</text>
<clipPath id="cl3"><rect x="34.9" y="560.59" width="221.9" height="5.01"/></clipPath>
<defs><polyline id="cl3p" points="35.6,562.35 35.95,562 36.3,562.28 36.65,562.38 37,562.3 37.35,562.41 37.7,562.43 38.05,562.46 38.4,562.2 38.75,562.52 39.1,562.56 39.45,562.55 39.8,562.44 40.15,562.81 40.5,562.93 40.85,562.58 41.2,563.16 41.55,563.08 41.9,562.99 42.25,562.82 42.6,563.27 42.95,563.49 43.3,563.09 43.65,563.24 44,563.21 44.35,563.08 44.7,563.07 45.05,563.02 45.4,563.07 45.75,562.78 46.1,562.69 46.45,562.82 46.8,562.81 47.15,562.59 47.5,562.56 47.85,562.7 48.2,562.57 48.55,562.32 48.9,562.43 49.25,562.43 49.6,562.34 49.95,562.36 50.3,562.35 50.65,562.61 51,562.14 51.35,562.37 51.7,562.53 52.05,562.32 52.4,562.44 52.75,562.5 53.1,562.38 53.45,562.23 53.8,562.45 54.15,562.27 54.5,562.11 54.84,562.38 54.85,562.31 54.92,562.09 55,562.36 55.08,562.1 55.16,561.81 55.2,561.8 55.24,561.81 55.32,562.03 55.4,561.33 55.48,561.42 55.55,561.23 55.56,561.24 55.64,561.3 55.72,560.99 55.8,560.62 55.88,559.78 55.9,560.02 55.96,559.52 56.04,558.81 56.12,557.76 56.2,556.47 56.25,555.43 56.28,554.86 56.36,552.38 56.44,547.7 56.52,540.67 56.6,528.07 56.68,504.96 56.76,465.27 56.84,434.08 56.92,461.5 56.95,478.24 57,502.31 57.08,526.7 57.16,539.6 57.24,547.13 57.3,550.57 57.32,551.61 57.4,554.42 57.48,556.42 57.56,557.72 57.64,558.97 57.65,558.91 57.72,559.55 57.8,559.82 57.88,560.27 57.96,560.55 58,560.64 58.04,561.02 58.12,561.06 58.2,561.13 58.28,561.54 58.35,561.51 58.36,561.69 58.44,561.99 58.52,561.86 58.6,562.06 58.68,562.01 58.7,562.1 58.76,562.04 58.84,562.41 59.05,561.96 59.4,562.16 59.75,562.45 60.1,562.55 60.45,562.44 60.8,562.35 61.15,562.38 61.5,562.37 61.85,562.67 62.2,562.55 62.55,562.21 62.9,562.33 63.25,562.54 63.6,562.42 63.72,562.48 63.8,562.41 63.88,562.11 63.95,562.28 63.96,562.1 64.04,562.21 64.12,562.41 64.2,562.28 64.28,561.86 64.3,562.27 64.36,562.28 64.44,561.95 64.52,562.07 64.6,562.05 64.65,561.82 64.68,562.24 64.76,561.9 64.84,562.04 64.92,562.03 65,561.88 65.08,561.54 65.16,561.62 65.24,561.76 65.32,561.57 65.35,561.18 65.4,561.19 65.48,561.4 65.56,560.86 65.64,561.19 65.7,561.28 65.72,561.14 65.8,561.01 65.88,560.96 65.96,561.11 66.04,561.38 66.05,561.41 66.12,561.61 66.2,561.52 66.28,561.68 66.36,561.65 66.4,561.89 66.44,561.82 66.52,561.94 66.6,562.04 66.68,562.1 66.75,562.11 66.76,562.14 66.84,561.95 66.92,562.04 67,562.27 67.08,562.05 67.1,562.08 67.16,561.94 67.24,562.19 67.32,562.21 67.4,562.29 67.45,562.19 67.48,562.14 67.56,562.2 67.64,562.26 67.72,562.16 67.8,562.23 68.15,562.24 68.5,562.4 68.85,562.25 69.2,562.4 69.55,562.36 69.9,562.18 70.25,561.86 70.3,561.99 70.38,562.1 70.46,562.1 70.54,561.92 70.6,561.84 70.62,561.85 70.7,562 70.78,561.9 70.86,561.91 70.94,561.84 70.95,561.91 71.02,561.75 71.1,561.91 71.18,561.66 71.26,561.29 71.3,561.39 71.34,561.09 71.42,561.09 71.5,560.65 71.58,560.13 71.65,559.82 71.66,559.7 71.74,558.44 71.82,557.64 71.9,555.73 71.98,552.54 72,551.34 72.06,546.82 72.14,536.13 72.22,518.2 72.3,504.63 72.35,510.04 72.38,517.26 72.46,535.6 72.54,546.47 72.62,552.15 72.7,555.53 72.78,557.42 72.86,558.67 72.94,559.67 73.02,559.97 73.05,560.51 73.1,560.78 73.18,561.09 73.26,561.13 73.34,561.51 73.4,561.71 73.42,561.59 73.5,561.63 73.58,561.91 73.66,562.02 73.74,561.92 73.75,561.94 73.82,562 73.9,562.29 73.98,562.2 74.06,562.23 74.1,562.54 74.14,562.16 74.22,562.34 74.3,562.43 74.45,562.13 74.8,562.49 75.15,562.66 75.5,562.6 75.85,562.53 76.2,562.48 76.55,562.58 76.9,562.64 77.25,562.54 77.28,562.55 77.36,562.55 77.44,562.39 77.52,562.42 77.6,562.32 77.68,562.4 77.76,562.36 77.84,562.23 77.92,562.2 77.95,561.98 78,562.22 78.08,562 78.16,561.97 78.24,562.05 78.3,561.71 78.32,561.76 78.4,561.97 78.48,561.49 78.56,561.31 78.64,561.4 78.65,561.05 78.72,561.12 78.8,561.12 78.88,560.72 78.96,560.68 79,560.73 79.04,560.77 79.12,560.32 79.2,560.37 79.28,560.15 79.35,560.2 79.36,560.33 79.44,560.4 79.52,560.21 79.6,560.36 79.68,560.65 79.7,560.84 79.76,561.04 79.84,561.12 79.92,560.99 80,561.29 80.05,561.46 80.08,561.63 80.16,561.55 80.24,561.79 80.32,561.75 80.4,561.73 80.48,561.75 80.56,561.93 80.64,562.05 80.72,562.01 80.75,561.82 80.8,562.03 80.88,562.31 80.96,561.94 81.04,562.15 81.1,561.73 81.12,562.27 81.2,562.24 81.28,562.29 81.45,562.24 81.8,562.44 82.15,562.61 82.5,562.72 82.85,562.53 83.2,562.63 83.55,562.68 83.9,562.37 84.25,562.6 84.6,562.6 84.95,562.86 85.3,562.8 85.65,562.91 86,562.94 86.35,562.84 86.7,562.89 87.05,562.94 87.4,562.97 87.75,563.18 88.1,563.08 88.45,562.92 88.8,563 89.15,563.02 89.5,562.84 89.85,562.97 90.2,562.9 90.55,562.66 90.9,562.78 91.25,562.51 91.6,562.59 91.95,562.52 92.3,562.45 92.65,562.88 93,562.58 93.35,562.74 93.7,562.63 94.05,562.59 94.4,562.42 94.75,562.61 95.1,562.41 95.45,562.73 95.8,562.69 96.15,562.71 96.5,562.62 96.85,562.79 97.2,562.89 97.55,562.87 97.9,563.04 98.25,562.69 98.6,562.77 98.95,562.81 99.3,562.83 99.65,562.93 100,562.89 100.35,562.7 100.7,562.89 101.05,562.85 101.4,562.5 101.75,562.46 102.1,562.59 102.45,562.52 102.8,562.53 103.15,562.33 103.5,562.55 103.85,562.45 104.2,562.37 104.55,562.23 104.9,562.44 105.25,562.37 105.6,562.47 105.95,562.5 106.3,562.51 106.65,562.42 107,562.33 107.35,562.56 107.7,562.57 108.05,562.56 108.4,562.48 108.75,562.46 109.1,562.74 109.45,562.54 109.8,562.74 110.15,562.52 110.5,562.75 110.85,562.78 111.2,562.73 111.55,562.65 111.9,562.77 112.25,562.61 112.6,562.62 112.95,562.63 113.3,562.61 113.65,562.53 114,562.75 114.35,562.66 114.7,562.67 115.05,562.95 115.4,562.63 115.75,562.8 116.1,562.81 116.45,562.79 116.8,562.73 117.15,562.72 117.5,562.71 117.85,562.88 118.2,562.7 118.55,562.74 118.9,562.85 119.25,562.79 119.6,562.66 119.95,562.68 120.3,562.59 120.43,562.65 120.51,562.49 120.59,562.33 120.65,562.55 120.67,562.81 120.75,562.35 120.83,562.63 120.91,562.71 120.99,562.8 121,562.43 121.07,562.31 121.15,562.28 121.23,562.41 121.31,562.11 121.35,562.28 121.39,562.31 121.47,562.15 121.55,562.03 121.63,561.94 121.7,561.78 121.71,562.11 121.79,561.45 121.87,561.54 121.95,561.15 122.03,561.07 122.05,560.87 122.11,560.69 122.19,560.56 122.27,560.02 122.35,559.78 122.4,559.95 122.43,560.07 122.51,559.95 122.59,560.17 122.67,560.32 122.75,560.64 122.83,560.71 122.91,561.09 122.99,561.42 123.07,561.54 123.1,562.01 123.15,561.83 123.23,561.96 123.31,561.95 123.39,561.97 123.45,562.04 123.47,561.96 123.55,562.23 123.63,562.15 123.71,562.24 123.79,562.26 123.8,562.22 123.87,562.32 123.95,562.28 124.03,562.34 124.11,562.22 124.15,562.37 124.19,562.33 124.27,562.04 124.35,562.31 124.43,562.34 124.5,562.27 124.85,562.58 125.2,562.38 125.55,562.41 125.9,562.48 126.25,562.44 126.6,562.5 126.95,562.49 127.3,562.77 127.65,562.68 128,562.86 128.35,562.67 128.7,562.86 129.05,563.1 129.4,562.95 129.75,563.14 130.1,562.91 130.45,563.11 130.8,563.37 131.15,563.14 131.5,562.95 131.85,563.03 132.2,563.14 132.55,562.94 132.9,562.92 133.25,562.76 133.6,562.79 133.95,562.81 134.3,562.91 134.65,562.71 135,562.66 135.35,562.64 135.7,562.54 136.05,562.7 136.4,562.43 136.75,562.47 137.1,562.4 137.45,562.44 137.8,562.45 138.15,562.37 138.5,562.3 138.85,562.45 139.2,562.37 139.55,562.53 139.9,562.4 140.25,562.47 140.6,562.67 140.95,562.37 141.3,562.66 141.65,562.56 142,562.76 142.35,562.84 142.7,562.54 143.05,562.82 143.4,562.92 143.75,562.68 144.1,562.85 144.45,562.67 144.8,562.4 145.15,562.69 145.5,562.58 145.85,562.55 146.2,562.58 146.55,562.62 146.9,562.4 147.25,562.6 147.6,562.55 147.95,562.58 148.3,562.76 148.65,562.55 149,562.59 149.35,562.52 149.7,562.52 150.05,562.41 150.4,562.86 150.75,562.68 151.1,562.66 151.45,562.7 151.8,562.5 152.15,562.51 152.5,562.41 152.68,562.58 152.76,562.46 152.84,562.31 152.85,562.36 152.92,562.34 153,562.23 153.08,562.2 153.16,562.24 153.2,561.85 153.24,562.12 153.32,561.87 153.4,561.78 153.48,561.61 153.55,561.69 153.56,561.73 153.64,561.37 153.72,561.17 153.8,561.24 153.88,560.92 153.9,560.54 153.96,560.15 154.04,559.5 154.12,558.5 154.2,557.36 154.25,555.73 154.28,555.08 154.36,551.76 154.44,546.36 154.52,537.25 154.6,523.51 154.68,515.91 154.76,524.61 154.84,537.94 154.92,546.86 154.95,549.38 155,552.27 155.08,555.35 155.16,557.4 155.24,558.63 155.3,559.17 155.32,559.19 155.4,560.08 155.48,560.4 155.56,560.99 155.64,561.16 155.65,561.09 155.72,561.23 155.8,561.6 155.88,561.52 155.96,561.69 156,561.58 156.04,561.67 156.12,561.8 156.2,561.98 156.28,561.95 156.35,562.14 156.36,562.14 156.44,562.31 156.52,562.27 156.6,562.3 156.68,562.17 156.7,562.15 157.05,562.42 157.4,562.31 157.75,562.28 158.1,562.25 158.45,562.41 158.8,562.4 159.15,562.52 159.5,562.39 159.85,562.75 160.2,562.56 160.55,562.94 160.9,562.46 161.25,562.6 161.6,563.03 161.95,562.85 162.3,562.98 162.65,563.01 162.83,562.82 162.91,562.87 162.99,562.6 163,562.8 163.07,562.86 163.15,562.71 163.23,562.62 163.31,562.53 163.35,562.55 163.39,562.79 163.47,562.65 163.55,562.51 163.63,562.52 163.7,562.24 163.71,562.37 163.79,562.23 163.87,562.12 163.95,561.89 164.03,561.86 164.05,561.33 164.11,561.44 164.19,561.04 164.27,560.6 164.35,559.55 164.4,559 164.43,558.25 164.51,556.19 164.59,553.15 164.67,548.4 164.75,541.78 164.83,538.08 164.91,541.23 164.99,547.61 165.07,552.8 165.1,554.11 165.15,556.19 165.23,558.31 165.31,559.23 165.39,560.35 165.45,560.77 165.47,560.82 165.55,561.35 165.63,561.75 165.71,561.86 165.79,562.14 165.8,561.96 165.87,562.21 165.95,562.3 166.03,562.25 166.11,562.63 166.15,562.65 166.19,562.39 166.27,562.37 166.35,562.56 166.43,562.69 166.5,562.46 166.51,562.56 166.59,562.51 166.67,562.9 166.75,562.7 166.83,562.82 166.85,562.83 167.2,562.64 167.55,562.62 167.9,562.76 168.25,562.7 168.6,562.47 168.95,562.54 169.3,562.61 169.65,562.51 170,562.54 170.35,562.71 170.7,562.61 171.05,562.5 171.4,562.46 171.75,562.71 172.1,562.67 172.45,562.66 172.8,562.8 173.15,562.48 173.5,562.58 173.85,562.49 174.2,562.96 174.55,562.79 174.9,562.46 175.25,562.89 175.6,562.95 175.95,562.69 176.3,562.51 176.65,562.62 177,562.82 177.35,562.62 177.7,562.62 178.05,562.63 178.4,562.59 178.75,562.52 179.1,562.47 179.45,562.43 179.8,562.46 180.15,562.61 180.5,562.82 180.85,562.51 181.2,562.78 181.55,562.3 181.9,562.75 182.25,562.85 182.6,562.86 182.95,562.59 183.3,562.61 183.65,562.58 184,562.64 184.35,562.79 184.7,562.59 185.05,562.78 185.4,562.89 185.75,562.57 186.1,562.61 186.45,562.79 186.8,562.68 187.15,562.49 187.5,562.48 187.85,562.72 188.2,562.41 188.55,562.86 188.9,562.49 189.25,562.43 189.6,562.47 189.95,562.43 190.3,562.64 190.65,562.44 191,562.36 191.35,562.55 191.7,562.42 192.05,562.48 192.4,562.78 192.75,562.6 193.1,562.48 193.45,562.8 193.8,562.63 194.15,562.64 194.5,562.89 194.85,562.8 195.2,562.69 195.55,562.75 195.9,563.01 196.25,562.78 196.6,562.89 196.95,562.93 197.3,562.76 197.65,562.87 198,562.91 198.35,562.82 198.7,562.85 199.05,562.75 199.4,562.91 199.75,563.1 200.1,562.64 200.45,562.71 200.8,562.72 201.15,562.75 201.5,562.75 201.85,562.7 202.2,562.82 202.55,562.59 202.9,562.67 203.25,562.8 203.6,562.64 203.95,562.72 204.3,562.69 204.65,562.62 205,562.34 205.35,562.83 205.7,562.63 206.05,562.58 206.23,562.6 206.31,562.45 206.39,562.69 206.4,562.67 206.47,562.62 206.55,562.78 206.63,562.44 206.71,562.73 206.75,562.48 206.79,562.39 206.87,562.62 206.95,562.5 207.03,562.47 207.1,562.18 207.11,562.36 207.19,562.57 207.27,562.14 207.35,562.07 207.43,562.38 207.45,562.46 207.51,561.68 207.59,561.9 207.67,562.06 207.75,561.49 207.8,561.35 207.83,561.78 207.91,561.14 207.99,561.05 208.07,561.01 208.15,561.01 208.23,560.83 208.31,561.02 208.39,560.99 208.47,561.17 208.5,561.26 208.55,561.23 208.63,561.33 208.71,561.5 208.79,561.7 208.85,561.64 208.87,562.06 208.95,561.99 209.03,562.07 209.11,562.02 209.19,562.54 209.2,562.31 209.27,562.35 209.35,562.33 209.43,562.1 209.51,562.4 209.55,562.46 209.59,562.41 209.67,562.36 209.75,562.53 209.83,562.31 209.9,562.7 209.91,562.38 209.99,562.47 210.07,562.44 210.15,562.37 210.23,562.62 210.25,562.53 210.6,562.57 210.95,562.68 211.3,562.7 211.65,562.69 212,562.46 212.35,562.86 212.7,562.72 213.05,562.54 213.4,562.37 213.75,562.56 214.1,562.39 214.45,562.57 214.8,562.65 215.15,562.8 215.5,562.6 215.85,562.42 216.2,562.65 216.55,562.83 216.9,562.64 217.25,562.91 217.6,562.9 217.95,562.62 218.3,562.72 218.65,562.65 219,562.74 219.35,562.78 219.7,562.72 220.05,562.77 220.4,562.57 220.75,562.84 221.1,562.89 221.45,562.72 221.8,562.46 222.15,562.61 222.5,562.81 222.85,562.11 223.2,562.57 223.55,562.45 223.9,562.34 224.25,562.35 224.6,562.41 224.95,562.59 225.3,562.33 225.65,562.53 226,562.44 226.35,562.34 226.7,562.52 227.05,562.73 227.4,562.6 227.75,562.47 228.1,562.49 228.45,562.78 228.8,562.63 229.15,562.62 229.5,562.54 229.85,562.65 230.2,562.69 230.55,562.76 230.9,562.67 231.25,562.63 231.6,562.75 231.95,562.76 232.3,562.49 232.65,562.71 233,562.79 233.35,562.59 233.7,562.83 234.05,562.8 234.4,562.52 234.75,562.63 235.1,562.52 235.45,562.51 235.8,562.69 236.15,562.51 236.5,562.59 236.85,562.46 237.05,562.41 237.13,562.43 237.2,562.57 237.21,562.36 237.29,562.36 237.37,562.26 237.45,562.43 237.53,562.23 237.55,562.27 237.61,562.26 237.69,562.18 237.77,562.11 237.85,562.18 237.9,562.02 237.93,561.97 238.01,561.75 238.09,561.71 238.17,561.36 238.25,561.3 238.33,561.14 238.41,560.92 238.49,560.88 238.57,560.35 238.6,560.12 238.65,560.21 238.73,559.58 238.81,559.36 238.89,559.13 238.95,559.08 238.97,558.99 239.05,559.03 239.13,559.01 239.21,559.19 239.29,559.46 239.3,559.67 239.37,559.67 239.45,560.21 239.53,560.39 239.61,560.67 239.65,560.91 239.69,560.69 239.77,561.22 239.85,561.38 239.93,561.64 240,561.69 240.01,561.92 240.09,561.8 240.17,562.04 240.25,562.15 240.33,562.06 240.35,562.06 240.41,562.28 240.49,562.42 240.57,562.6 240.65,562.52 240.7,562.35 240.73,562.34 240.81,562.62 240.89,562.48 240.97,562.38 241.05,562.64 241.4,562.68 241.75,562.77 242.1,562.61 242.45,562.91 242.8,562.67 243.15,562.58 243.5,562.63 243.85,562.47 244.2,562.49 244.55,562.62 244.9,562.66 245.25,562.65 245.6,562.44 245.95,562.5 246.3,562.46 246.65,562.58 247,562.31 247.35,562.32 247.7,562.31 248.05,562.49 248.14,561.99 248.22,562.2 248.3,562.42 248.38,562.13 248.4,562.26 248.46,562.32 248.54,562.28 248.62,562.07 248.7,562.04 248.75,562.02 248.78,562.05 248.86,562.08 248.94,561.82 249.02,561.78 249.1,561.65 249.18,561.39 249.26,561.07 249.34,561.15 249.42,560.68 249.45,560.78 249.5,560.36 249.58,559.99 249.66,559.6 249.74,559.01 249.8,558.68 249.82,558.46 249.9,557.64 249.98,557.05 250.06,556.42 250.14,556.67 250.15,556.6 250.22,556.68 250.3,557.12 250.38,557.81 250.46,558.46 250.5,558.75 250.54,558.89 250.62,559.64 250.7,560.22 250.78,560.49 250.85,561.17 250.86,560.99 250.94,561.24 251.02,561.35 251.1,561.88 251.18,561.78 251.2,561.92 251.26,561.76 251.34,561.9 251.42,562.16 251.5,562.12 251.55,562.38 251.58,562.23 251.66,562.28 251.74,562.23 251.82,562.47 251.9,562.73 251.98,562.39 252.06,562.66 252.14,562.62 252.25,562.62 252.6,562.43 252.95,562.68 253.3,562.54 253.65,562.67 254,562.84 254.35,562.58 254.7,562.54 255.05,562.65 255.4,562.74 255.75,562.15 256.1,562.21" fill="none" stroke-linejoin="round"/></defs>
<use href="#cl3p" stroke="#8e8e8e" stroke-width="1.2"/>
<path d="M57.19 561.38V491.79M72.65 561.38V533.7M155.03 561.38V536.96M165.18 561.38V550.18" stroke="#000" stroke-opacity="0.28" stroke-width="1" fill="none"/>
<use href="#cl3p" stroke="#262626" stroke-width="0.8" clip-path="url(#cl3)"/>
<rect x="34.9" y="407.4" width="221.9" height="158.2" fill="none" stroke="#404040" stroke-width="1.3"/>
<path d="M59.56 565.6v-3.2M108.87 565.6v-3.2M158.18 565.6v-3.2M207.49 565.6v-3.2M256.8 565.6v-3.2M84.21 565.6v-2.2M133.52 565.6v-2.2M182.83 565.6v-2.2M232.14 565.6v-2.2" stroke="#404040" stroke-width="1" fill="none"/>
<text x="59.56" y="576.8" class="tl" text-anchor="middle">40</text>
<text x="108.87" y="576.8" class="tl" text-anchor="middle">60</text>
<text x="158.18" y="576.8" class="tl" text-anchor="middle">80</text>
<text x="207.49" y="576.8" class="tl" text-anchor="middle">100</text>
<text x="256.8" y="576.8" class="tl" text-anchor="middle">120</text>
<path d="M34.9 565.6h3.2M34.9 539.23h3.2M34.9 512.87h3.2M34.9 486.5h3.2M34.9 460.13h3.2M34.9 433.77h3.2M34.9 407.4h3.2M34.9 552.42h2.2M34.9 526.05h2.2M34.9 499.68h2.2M34.9 473.32h2.2M34.9 446.95h2.2M34.9 420.58h2.2" stroke="#404040" stroke-width="1" fill="none"/>
<text x="31.3" y="568.9" class="tl" text-anchor="end">0</text>
<text x="31.3" y="542.53" class="tl" text-anchor="end">20</text>
<text x="31.3" y="516.17" class="tl" text-anchor="end">40</text>
<text x="31.3" y="489.8" class="tl" text-anchor="end">60</text>
<text x="31.3" y="463.43" class="tl" text-anchor="end">80</text>
<text x="31.3" y="437.07" class="tl" text-anchor="end">100</text>
<text x="31.3" y="410.7" class="tl" text-anchor="end">120</text>
<text transform="translate(12.8,485.7) rotate(-90)" text-anchor="middle" class="tt" font-size="14.0">Relative intensity(%)</text>
<text x="114" y="591.7" class="tt" font-size="14.3">2θ(degree)</text>
<text x="48.3" y="427.2" class="pl pls" font-size="12.3">(e)</text>
<clipPath id="cl4"><rect x="34.6" y="765.36" width="226.6" height="5.14"/></clipPath>
<defs><polyline id="cl4p" points="35.65,767.8 36,767.73 36.35,767.6 36.7,767.63 37.05,767.53 37.4,767.67 37.75,767.52 38.1,767.48 38.45,767.6 38.8,767.26 39.15,767.4 39.5,767.29 39.85,767.52 40.2,767.52 40.55,767.45 40.9,767.4 41.25,767.29 41.6,767.34 41.95,767.42 42.3,767.49 42.65,767.43 43,767.2 43.35,767.48 43.7,767.34 44.05,767.32 44.4,767.6 44.75,767.4 45.1,767.25 45.45,767.71 45.8,767.5 46.15,767.49 46.5,767.61 46.85,767.46 47.2,767.55 47.55,767.76 47.9,767.48 48.25,767.52 48.6,767.5 48.95,767.45 49.3,767.61 49.65,767.66 50,767.86 50.35,767.61 50.7,767.78 51.05,767.76 51.4,767.86 51.75,767.81 52.1,767.74 52.45,767.47 52.8,767.89 53.15,767.77 53.5,767.48 53.85,767.24 54.2,767.25 54.55,767.44 54.9,767.3 54.91,766.9 54.99,766.98 55.07,766.95 55.15,766.58 55.23,766.47 55.25,766.57 55.31,766.47 55.39,766.31 55.47,766 55.55,765.95 55.6,765.84 55.63,765.75 55.71,765.78 55.79,765.09 55.87,764.75 55.95,764.34 56.03,764.08 56.11,763.11 56.19,761.88 56.27,760.81 56.3,759.92 56.35,758.41 56.43,755.73 56.51,750.67 56.59,743.08 56.65,733.72 56.67,729.42 56.75,704.09 56.83,662.82 56.91,635.15 56.99,665.73 57,671.38 57.07,706.06 57.15,730.53 57.23,743.83 57.31,751.04 57.35,753.5 57.39,755.75 57.47,758.78 57.55,760.57 57.63,761.96 57.7,762.87 57.71,762.75 57.79,763.84 57.87,764.1 57.95,764.9 58.03,765.19 58.05,765.08 58.11,765.23 58.19,765.5 58.27,765.77 58.35,765.96 58.4,766.04 58.43,766.04 58.51,766.26 58.59,766.29 58.67,766.34 58.75,766.49 58.83,766.45 58.91,766.54 59.1,766.45 59.45,766.81 59.8,766.99 60.15,767.03 60.5,767.01 60.85,766.9 61.2,767.08 61.55,766.99 61.9,766.8 62.25,767.4 62.6,767.21 62.95,767.03 63.3,767.01 63.65,767.04 64,767.14 64.35,767.01 64.7,767.07 65.05,767.2 65.4,766.82 65.75,767.12 66.1,767.26 66.45,767.22 66.8,767.27 67.15,767.27 67.5,767.66 67.85,767.38 68.2,767.2 68.55,767.52 68.9,767.4 69.25,767.29 69.6,767.32 69.95,767.26 70.3,767.7 70.65,767.52 70.72,767.51 70.8,767.38 70.88,767.31 70.96,767.82 71,767.3 71.04,767.64 71.12,767.34 71.2,767.62 71.28,767.38 71.35,767.23 71.36,767.41 71.44,767.34 71.52,767.22 71.6,767.27 71.68,767.26 71.7,767.02 71.76,767.04 71.84,767.14 71.92,766.62 72,767.01 72.05,766.61 72.08,766.69 72.16,766.37 72.24,765.89 72.32,765.36 72.4,764.38 72.48,763.2 72.56,760.92 72.64,757.79 72.72,756.49 72.75,756.76 72.8,758.14 72.88,760.62 72.96,762.96 73.04,764.33 73.1,765.39 73.12,765.45 73.2,766.21 73.28,766.35 73.36,766.52 73.44,767.06 73.45,766.75 73.52,766.96 73.6,767.23 73.68,767.56 73.76,767.18 73.8,767.41 73.84,767.51 73.92,767.42 74,767.46 74.08,767.34 74.15,767.71 74.16,767.42 74.24,767.4 74.32,767.42 74.4,767.66 74.48,767.76 74.5,767.52 74.56,767.65 74.64,767.67 74.72,767.5 74.85,767.75 75.2,768.06 75.55,767.82 75.9,768.04 76.25,767.68 76.6,767.76 76.95,767.89 77.3,767.81 77.65,767.69 78,767.79 78.35,767.61 78.7,767.79 79.05,767.64 79.4,767.56 79.75,767.54 80.1,767.83 80.45,767.61 80.8,767.97 81.15,767.84 81.5,767.95 81.85,767.52 82.2,767.81 82.55,767.63 82.9,767.64 83.25,767.6 83.6,767.65 83.95,767.52 84.3,767.29 84.65,767.51 85,767.43 85.35,767.35 85.7,767.49 86.05,767.62 86.4,767.51 86.75,767.27 87.1,767.62 87.45,767.46 87.8,767.23 88.15,767.25 88.5,767.34 88.85,767.22 89.2,767.3 89.55,767.47 89.9,767.51 90.25,767.38 90.6,767.16 90.95,767.36 91.3,767.4 91.65,767.38 92,767.48 92.35,767.29 92.7,767.43 93.05,767.23 93.4,767.6 93.75,767.24 94.1,767.38 94.45,767.56 94.8,767.21 95.15,767.36 95.5,767.64 95.85,767.47 96.2,767.32 96.55,767.44 96.9,767.29 97.25,767.31 97.6,767.34 97.95,767.4 98.3,767.28 98.65,767.39 99,767.44 99.35,767.8 99.7,767.41 100.05,767.37 100.4,767.61 100.75,767.65 101.1,767.34 101.45,767.85 101.8,767.56 102.15,767.31 102.5,767.77 102.85,767.56 103.2,767.41 103.55,767.69 103.9,767.6 104.25,767.56 104.6,767.8 104.95,767.69 105.3,767.64 105.65,767.57 106,767.68 106.35,767.7 106.7,767.8 107.05,767.7 107.4,767.53 107.75,767.62 108.1,767.74 108.45,767.73 108.8,767.24 109.15,767.44 109.5,767.5 109.85,767.92 110.2,767.47 110.55,767.48 110.9,767.31 111.25,767.47 111.6,767.53 111.95,767.44 112.3,767.77 112.65,767.36 113,767.45 113.35,767.58 113.7,767.3 114.05,767.24 114.4,767.67 114.75,767.57 115.1,767.44 115.45,767.46 115.8,767.54 116.15,767.63 116.5,767.21 116.85,767.37 117.2,767.67 117.55,767.7 117.9,767.3 118.25,767.4 118.6,767.29 118.95,767.43 119.3,767.67 119.65,767.52 120,767.84 120.35,767.65 120.7,767.55 121.05,767.46 121.4,767.61 121.75,767.5 122.08,767.38 122.1,767.38 122.16,767.34 122.24,767.38 122.32,767.43 122.4,767.26 122.45,767.34 122.48,767.45 122.56,767.39 122.64,767.27 122.72,767.25 122.8,767.16 122.88,767.12 122.96,767.03 123.04,766.98 123.12,767.02 123.15,766.74 123.2,766.57 123.28,766.47 123.36,766.31 123.44,765.9 123.5,765.76 123.52,765.76 123.6,764.82 123.68,763.94 123.76,762.08 123.84,759.59 123.85,759.34 123.92,754.97 124,748.03 124.08,744.12 124.16,748.12 124.2,751.47 124.24,754.49 124.32,759.2 124.4,762.04 124.48,763.53 124.55,764.57 124.56,764.78 124.64,765.37 124.72,765.69 124.8,766.11 124.88,766.35 124.9,766.68 124.96,766.69 125.04,766.71 125.12,766.95 125.2,766.85 125.25,766.96 125.28,766.94 125.36,767.15 125.44,766.83 125.52,767.04 125.6,767.27 125.68,767.26 125.76,766.94 125.84,767.36 125.92,767.21 125.95,767.2 126,767.34 126.08,767.51 126.3,767.35 126.65,767.35 127,767.26 127.35,767.31 127.7,767.41 128.05,767.29 128.4,767.32 128.75,767.36 129.1,767.37 129.45,767.4 129.8,767.26 130.15,767.49 130.5,767.42 130.85,767.33 131.2,767.52 131.55,767.38 131.9,767.59 132.25,767.41 132.6,767.24 132.95,767.24 133.3,767.32 133.65,767.35 134,767.52 134.35,767.09 134.7,767.27 135.05,767.21 135.4,767.48 135.75,767.4 136.1,767.64 136.45,767.3 136.8,767.3 137.15,767.69 137.5,767.46 137.85,767.39 138.2,767.73 138.55,767.75 138.9,767.66 139.25,767.62 139.6,767.74 139.95,767.56 140.3,767.55 140.65,767.51 141,767.51 141.35,767.41 141.7,767.47 142.05,767.81 142.4,767.7 142.75,767.78 143.1,767.79 143.45,767.66 143.8,767.65 144.15,767.58 144.5,767.86 144.85,767.81 145.2,767.64 145.55,767.66 145.9,767.67 146.25,767.63 146.6,767.72 146.95,767.51 147.3,767.55 147.65,767.61 148,767.68 148.35,767.6 148.7,767.94 149.05,767.7 149.4,767.56 149.75,767.76 150.1,767.53 150.45,767.53 150.8,767.73 151.15,767.58 151.5,767.58 151.85,767.48 152.2,767.46 152.55,767.54 152.9,767.65 153.25,767.56 153.6,767.54 153.95,767.43 154.3,767.48 154.65,767.61 155,767.68 155.35,767.51 155.47,767.54 155.55,767.58 155.63,767.43 155.7,767.47 155.71,767.38 155.79,767.31 155.87,767.41 155.95,767.02 156.03,767.34 156.05,767.14 156.11,767.25 156.19,767.07 156.27,767.49 156.35,767.2 156.4,767.02 156.43,766.94 156.51,766.61 156.59,766.75 156.67,766.46 156.75,766.32 156.83,766 156.91,765.65 156.99,765.15 157.07,764.19 157.1,763.96 157.15,762.73 157.23,760.86 157.31,757.36 157.39,752.97 157.45,751.28 157.47,751.13 157.55,753.34 157.63,757.63 157.71,761 157.79,762.96 157.8,763.12 157.87,764.23 157.95,765.28 158.03,765.51 158.11,765.92 158.15,766.3 158.19,766.4 158.27,766.71 158.35,766.62 158.43,767.03 158.5,766.93 158.51,767.09 158.59,767.2 158.67,767.07 158.75,767.04 158.83,767.27 158.85,767.37 158.91,767.19 158.99,767.34 159.07,767.32 159.15,767.18 159.2,767.24 159.23,767.47 159.31,767.11 159.39,767.43 159.47,767.34 159.55,767.54 159.9,767.49 160.25,767.74 160.6,767.26 160.95,767.32 161.3,767.66 161.65,767.69 162,767.69 162.35,767.3 162.7,767.5 163.05,767.42 163.4,767.43 163.75,767.38 164.1,767.49 164.45,767.31 164.8,767.47 165.15,767.25 165.5,767.15 165.54,767.12 165.62,767.2 165.7,767.27 165.78,767.11 165.85,767.19 165.86,766.91 165.94,766.99 166.02,767.09 166.1,767.11 166.18,767.12 166.2,767.14 166.26,767.04 166.34,766.91 166.42,766.84 166.5,766.78 166.55,766.53 166.58,766.89 166.66,766.71 166.74,766.24 166.82,766.76 166.9,766.43 166.98,766.15 167.06,765.91 167.14,765.57 167.22,765.28 167.25,765.04 167.3,764.8 167.38,764.24 167.46,764.23 167.54,763.95 167.6,763.92 167.62,764.12 167.7,764.49 167.78,764.72 167.86,765.33 167.94,765.53 167.95,765.55 168.02,765.87 168.1,766.08 168.18,766.34 168.26,766.66 168.3,766.53 168.34,766.52 168.42,766.74 168.5,766.76 168.58,766.7 168.65,766.96 168.66,766.76 168.74,766.64 168.82,767 168.9,766.93 168.98,766.99 169,766.77 169.06,766.95 169.14,766.89 169.22,767.12 169.3,767.05 169.35,767.05 169.38,767.3 169.46,766.87 169.54,766.96 169.7,767.33 170.05,767.03 170.4,767.18 170.75,767.12 171.1,767.16 171.45,767.43 171.8,767.29 172.15,767.08 172.5,767.39 172.85,767.48 173.2,767.56 173.55,767.57 173.9,767.39 174.25,767.24 174.6,767.45 174.95,767.51 175.3,767.27 175.65,767.68 176,767.73 176.35,767.6 176.7,767.63 177.05,767.87 177.4,767.92 177.75,767.75 178.1,767.78 178.45,768.01 178.8,767.88 179.15,767.95 179.5,767.82 179.85,767.91 180.2,767.91 180.55,767.95 180.9,767.76 181.25,767.72 181.6,767.95 181.95,767.77 182.3,767.98 182.65,767.85 183,767.74 183.35,767.62 183.7,767.85 184.05,767.79 184.4,767.73 184.75,767.93 185.1,767.69 185.45,767.76 185.8,767.58 186.15,767.76 186.5,767.84 186.85,767.54 187.2,767.47 187.55,767.55 187.9,767.33 188.25,767.46 188.6,767.48 188.95,767.31 189.3,767.56 189.65,767.42 190,767.31 190.35,767.18 190.7,767.3 191.05,767.22 191.4,767.35 191.75,767.21 192.1,767.02 192.45,767.34 192.8,766.93 193.15,767.34 193.5,767.25 193.85,767.24 194.2,767.13 194.55,767.45 194.9,767.58 195.25,767.23 195.6,767.22 195.95,767.26 196.3,767.01 196.65,767.36 197,767.37 197.35,767.3 197.7,767.39 198.05,767.24 198.4,767.65 198.75,767.55 199.1,767.99 199.45,767.43 199.8,767.61 200.15,767.45 200.5,767.3 200.85,767.6 201.2,767.65 201.55,767.69 201.9,767.74 202.25,767.72 202.6,767.56 202.95,767.64 203.3,767.64 203.65,767.67 204,767.52 204.35,767.58 204.7,767.66 205.05,767.55 205.4,767.65 205.75,767.78 206.1,767.42 206.45,767.54 206.8,767.73 207.15,767.44 207.5,767.53 207.85,767.78 208.2,767.33 208.55,767.5 208.9,767.41 209.25,767.49 209.6,767.53 209.95,767.71 210.3,767.36 210.65,767.47 211,767.51 211.35,767.41 211.7,767.44 212.05,767.36 212.4,767.49 212.75,767.44 213.1,767.73 213.45,767.49 213.8,767.34 214.15,767.25 214.5,767.48 214.85,767.45 215.2,767.23 215.55,767.49 215.9,767.35 216.25,767.23 216.6,767.46 216.95,767.31 217.3,767.58 217.65,767.46 218,767.51 218.35,767.49 218.7,767.37 219.05,767.21 219.4,767.63 219.75,767.63 220.1,767.5 220.45,767.72 220.8,767.52 221.15,767.52 221.5,767.64 221.85,767.55 222.2,767.84 222.55,767.53 222.9,767.85 223.25,767.75 223.6,767.73 223.95,767.72 224.3,767.55 224.65,767.66 225,767.73 225.35,767.6 225.7,767.46 226.05,767.68 226.4,767.63 226.75,767.51 227.1,767.63 227.45,767.84 227.8,767.32 228.15,767.35 228.5,767.91 228.85,767.63 229.2,767.56 229.55,767.47 229.9,767.5 230.25,767.61 230.6,767.7 230.95,767.53 231.3,767.38 231.65,767.65 232,767.63 232.35,767.47 232.7,767.71 233.05,767.47 233.4,767.47 233.75,767.33 234.1,767.47 234.45,767.47 234.8,767.39 235.15,767.33 235.5,767.39 235.85,767.28 236.2,767.17 236.55,767.09 236.9,767.01 237.25,767.33 237.6,767.27 237.95,767.53 238.3,766.92 238.65,767.26 239,767.15 239.35,767.05 239.7,767.27 240.05,766.98 240.4,766.98 240.57,767.19 240.65,766.88 240.73,766.73 240.75,767.14 240.81,766.76 240.89,766.81 240.97,766.75 241.05,766.71 241.1,766.57 241.13,766.77 241.21,766.58 241.29,766.7 241.37,766.5 241.45,766.65 241.53,766.49 241.61,766.18 241.69,766.28 241.77,766.28 241.8,766.38 241.85,766.28 241.93,766.07 242.01,765.88 242.09,765.86 242.15,765.79 242.17,765.84 242.25,765.58 242.33,765.75 242.41,765.73 242.49,765.51 242.5,765.62 242.57,765.66 242.65,765.71 242.73,765.71 242.81,765.64 242.85,765.71 242.89,765.96 242.97,765.82 243.05,765.95 243.13,766.2 243.2,766.05 243.21,766.2 243.29,766.3 243.37,766.24 243.45,766.25 243.53,766.6 243.55,766.47 243.61,766.7 243.69,766.34 243.77,766.79 243.85,766.62 243.9,766.9 243.93,766.72 244.01,766.58 244.09,767.27 244.17,767.03 244.25,766.94 244.33,767.06 244.41,767.17 244.49,766.82 244.57,767.13 244.6,767.37 244.95,767.14 245.3,767.56 245.65,767.24 246,767.52 246.35,767.47 246.7,767.35 247.05,767.54 247.4,767.78 247.75,767.84 248.1,767.47 248.45,767.55 248.8,767.78 249.15,767.57 249.5,767.63 249.85,767.62 250.2,768.01 250.55,767.75 250.9,767.59 251.25,767.6 251.6,767.57 251.95,768.01 252.3,767.63 252.65,767.55 253,767.21 253.16,767.65 253.24,767.55 253.32,767.48 253.35,767.36 253.4,767.52 253.48,767.28 253.56,767.51 253.64,767.33 253.7,767.4 253.72,767.3 253.8,767.37 253.88,767.43 253.96,767 254.04,767.02 254.05,767.13 254.12,766.94 254.2,766.71 254.28,766.83 254.36,766.52 254.4,766.31 254.44,766.18 254.52,765.97 254.6,765.77 254.68,764.72 254.75,764.13 254.76,764.05 254.84,762.92 254.92,761.24 255,759.34 255.08,757.52 255.1,757.13 255.16,756.65 255.24,757.56 255.32,759.56 255.4,761.29 255.45,762.59 255.48,762.85 255.56,764.22 255.64,764.84 255.72,765.29 255.8,765.87 255.88,766.31 255.96,766.44 256.04,766.61 256.12,767 256.15,766.9 256.2,766.86 256.28,767.03 256.36,767.03 256.44,767.01 256.5,767.04 256.52,767.03 256.6,767.12 256.68,767.27 256.76,767.26 256.84,767.32 256.85,767.33 256.92,767.33 257,767.56 257.08,767.39 257.16,767.36 257.2,767.49 257.55,767.4 257.9,767.35 258.25,767.44 258.6,767.14 258.95,767.77 259.3,767.44 259.65,767.66 260,767.27 260.35,767.04" fill="none" stroke-linejoin="round"/></defs>
<use href="#cl4p" stroke="#a0a0a0" stroke-width="1.2"/>
<path d="M57.26 766.17V701.39M124.43 766.17V755.76" stroke="#000" stroke-opacity="0.28" stroke-width="1" fill="none"/>
<use href="#cl4p" stroke="#262626" stroke-width="0.8" clip-path="url(#cl4)"/>
<clipPath id="cl4s"><rect x="70.22" y="608.2" width="5" height="157.16"/><rect x="154.97" y="608.2" width="5" height="157.16"/><rect x="252.66" y="608.2" width="5" height="157.16"/></clipPath>
<use href="#cl4p" stroke="#707070" stroke-width="1.0" clip-path="url(#cl4s)"/>
<rect x="34.6" y="608.2" width="226.6" height="162.3" fill="none" stroke="#404040" stroke-width="1.3"/>
<path d="M59.78 770.5v-3.2M110.13 770.5v-3.2M160.49 770.5v-3.2M210.84 770.5v-3.2M261.2 770.5v-3.2M84.96 770.5v-2.2M135.31 770.5v-2.2M185.67 770.5v-2.2M236.02 770.5v-2.2" stroke="#404040" stroke-width="1" fill="none"/>
<text x="59.78" y="781.7" class="tl" text-anchor="middle">40</text>
<text x="110.13" y="781.7" class="tl" text-anchor="middle">60</text>
<text x="160.49" y="781.7" class="tl" text-anchor="middle">80</text>
<text x="210.84" y="781.7" class="tl" text-anchor="middle">100</text>
<text x="261.2" y="781.7" class="tl" text-anchor="middle">120</text>
<path d="M34.6 770.5h3.2M34.6 743.45h3.2M34.6 716.4h3.2M34.6 689.35h3.2M34.6 662.3h3.2M34.6 635.25h3.2M34.6 608.2h3.2M34.6 756.98h2.2M34.6 729.92h2.2M34.6 702.88h2.2M34.6 675.83h2.2M34.6 648.78h2.2M34.6 621.73h2.2" stroke="#404040" stroke-width="1" fill="none"/>
<text x="31" y="773.8" class="tl" text-anchor="end">0</text>
<text x="31" y="746.75" class="tl" text-anchor="end">20</text>
<text x="31" y="719.7" class="tl" text-anchor="end">40</text>
<text x="31" y="692.65" class="tl" text-anchor="end">60</text>
<text x="31" y="665.6" class="tl" text-anchor="end">80</text>
<text x="31" y="638.55" class="tl" text-anchor="end">100</text>
<text x="31" y="611.5" class="tl" text-anchor="end">120</text>
<text transform="translate(12.2,691.8) rotate(-90)" text-anchor="middle" class="tt" font-size="14.1">Relative intensity(%)</text>
<text x="115.4" y="796.4" class="tt" font-size="14.4">2θ(degree)</text>
<text x="44" y="624.9" class="pl" font-size="12.3">(g)</text>
<path d="M320.6 158.8V131M335.3 158.8V124M384.8 158.8V125.5M416.5 158.8V113M427.4 158.8V98.4M498.7 158.8V72.8M510 158.8V116" stroke="#666" stroke-width="1.0" fill="none"/>
<path d="M321.6 158.8V155.8M419 158.8V156" stroke="#888" stroke-width="1.0" fill="none"/>
<rect x="297.6" y="2.5" width="217.9" height="156.3" fill="none" stroke="#404040" stroke-width="1.3"/>
<path d="M321.81 158.8v-3.2M370.23 158.8v-3.2M418.66 158.8v-3.2M467.08 158.8v-3.2M515.5 158.8v-3.2M346.02 158.8v-2.2M394.44 158.8v-2.2M442.87 158.8v-2.2M491.29 158.8v-2.2" stroke="#404040" stroke-width="1" fill="none"/>
<text x="321.81" y="170" class="tl" text-anchor="middle">40</text>
<text x="370.23" y="170" class="tl" text-anchor="middle">60</text>
<text x="418.66" y="170" class="tl" text-anchor="middle">80</text>
<text x="467.08" y="170" class="tl" text-anchor="middle">100</text>
<text x="515.5" y="170" class="tl" text-anchor="middle">120</text>
<path d="M297.6 158.8h3.2M297.6 127.54h3.2M297.6 96.28h3.2M297.6 65.02h3.2M297.6 33.76h3.2M297.6 2.5h3.2M297.6 143.17h2.2M297.6 111.91h2.2M297.6 80.65h2.2M297.6 49.39h2.2M297.6 18.13h2.2" stroke="#404040" stroke-width="1" fill="none"/>
<text x="294" y="162" class="tl" text-anchor="end">0.<tspan dx="1.6">0</tspan></text>
<text x="294" y="130.74" class="tl" text-anchor="end">0.<tspan dx="1.6">2</tspan></text>
<text x="294" y="99.48" class="tl" text-anchor="end">0.<tspan dx="1.6">4</tspan></text>
<text x="294" y="68.22" class="tl" text-anchor="end">0.<tspan dx="1.6">6</tspan></text>
<text x="294" y="36.96" class="tl" text-anchor="end">0.<tspan dx="1.6">8</tspan></text>
<text x="294" y="5.7" class="tl" text-anchor="end">1.<tspan dx="1.6">0</tspan></text>
<text transform="translate(275,67.15) rotate(-90)" text-anchor="middle" class="tt" font-size="14.0">FWHM (degree)</text>
<text x="376.8" y="186.7" class="tt" font-size="13.6">2θ(degree)</text>
<text x="311.6" y="22.7" class="pl" font-size="12.3">(b)</text>
<path d="M322.4 359.8V330.7M337.7 359.8V327.1M386.9 359.8V302.2M418.6 359.8V331.9M428.8 359.8V333M468.7 359.8V296M500 359.8V292.3M511.4 359.8V316" stroke="#555" stroke-width="1.0" fill="none"/>
<rect x="300.6" y="205.6" width="216.6" height="154.2" fill="none" stroke="#404040" stroke-width="1.3"/>
<path d="M300.6 359.8v-3.2M324.67 359.8v-3.2M348.73 359.8v-3.2M372.8 359.8v-3.2M396.87 359.8v-3.2M420.93 359.8v-3.2M445 359.8v-3.2M469.07 359.8v-3.2M493.13 359.8v-3.2M517.2 359.8v-3.2M312.63 359.8v-2.2M336.7 359.8v-2.2M360.77 359.8v-2.2M384.83 359.8v-2.2M408.9 359.8v-2.2M432.97 359.8v-2.2M457.03 359.8v-2.2M481.1 359.8v-2.2M505.17 359.8v-2.2" stroke="#404040" stroke-width="1" fill="none"/>
<text x="300.6" y="371" class="tl" text-anchor="middle">30</text>
<text x="324.67" y="371" class="tl" text-anchor="middle">40</text>
<text x="348.73" y="371" class="tl" text-anchor="middle">50</text>
<text x="372.8" y="371" class="tl" text-anchor="middle">60</text>
<text x="396.87" y="371" class="tl" text-anchor="middle">70</text>
<text x="420.93" y="371" class="tl" text-anchor="middle">80</text>
<text x="445" y="371" class="tl" text-anchor="middle">90</text>
<text x="469.07" y="371" class="tl" text-anchor="middle">100</text>
<text x="493.13" y="371" class="tl" text-anchor="middle">110</text>
<text x="517.2" y="371" class="tl" text-anchor="middle">120</text>
<path d="M300.6 359.8h3.2M300.6 328.96h3.2M300.6 298.12h3.2M300.6 267.28h3.2M300.6 236.44h3.2M300.6 205.6h3.2M300.6 344.38h2.2M300.6 313.54h2.2M300.6 282.7h2.2M300.6 251.86h2.2M300.6 221.02h2.2" stroke="#404040" stroke-width="1" fill="none"/>
<text x="297" y="363" class="tl" text-anchor="end">0.<tspan dx="1.6">0</tspan></text>
<text x="297" y="332.16" class="tl" text-anchor="end">0.<tspan dx="1.6">2</tspan></text>
<text x="297" y="301.32" class="tl" text-anchor="end">0.<tspan dx="1.6">4</tspan></text>
<text x="297" y="270.48" class="tl" text-anchor="end">0.<tspan dx="1.6">6</tspan></text>
<text x="297" y="239.64" class="tl" text-anchor="end">0.<tspan dx="1.6">8</tspan></text>
<text x="297" y="208.8" class="tl" text-anchor="end">1.<tspan dx="1.6">0</tspan></text>
<text transform="translate(278.8,274.1) rotate(-90)" text-anchor="middle" class="tt" font-size="13.9">FWHM (degree)</text>
<text x="380.2" y="388.6" class="ttr" font-size="13.9">2θ(degree)</text>
<text x="310.7" y="223.2" class="pl" font-size="12.3">(d)</text>
<path d="M324.1 562.7V531.9M338.7 562.7V530.3M387.4 562.7V495.5M418.6 562.7V525.7M428.6 562.7V531.2M467.9 562.7V495.5M498.6 562.7V488.3M509.5 562.7V491.4" stroke="#555" stroke-width="1.0" fill="none"/>
<rect x="302.8" y="406.7" width="213.2" height="156" fill="none" stroke="#404040" stroke-width="1.3"/>
<path d="M326.49 562.7v-3.2M373.87 562.7v-3.2M421.24 562.7v-3.2M468.62 562.7v-3.2M516 562.7v-3.2M350.18 562.7v-2.2M397.56 562.7v-2.2M444.93 562.7v-2.2M492.31 562.7v-2.2" stroke="#404040" stroke-width="1" fill="none"/>
<text x="326.49" y="573.9" class="tl" text-anchor="middle">40</text>
<text x="373.87" y="573.9" class="tl" text-anchor="middle">60</text>
<text x="421.24" y="573.9" class="tl" text-anchor="middle">80</text>
<text x="468.62" y="573.9" class="tl" text-anchor="middle">100</text>
<text x="516" y="573.9" class="tl" text-anchor="middle">120</text>
<path d="M302.8 562.7h3.2M302.8 531.5h3.2M302.8 500.3h3.2M302.8 469.1h3.2M302.8 437.9h3.2M302.8 406.7h3.2M302.8 547.1h2.2M302.8 515.9h2.2M302.8 484.7h2.2M302.8 453.5h2.2M302.8 422.3h2.2" stroke="#404040" stroke-width="1" fill="none"/>
<text x="299.2" y="565.9" class="tl" text-anchor="end">0.<tspan dx="1.6">0</tspan></text>
<text x="299.2" y="534.7" class="tl" text-anchor="end">0.<tspan dx="1.6">2</tspan></text>
<text x="299.2" y="503.5" class="tl" text-anchor="end">0.<tspan dx="1.6">4</tspan></text>
<text x="299.2" y="472.3" class="tl" text-anchor="end">0.<tspan dx="1.6">6</tspan></text>
<text x="299.2" y="441.1" class="tl" text-anchor="end">0.<tspan dx="1.6">8</tspan></text>
<text x="299.2" y="409.9" class="tl" text-anchor="end">1.<tspan dx="1.6">0</tspan></text>
<text transform="translate(278.8,478.6) rotate(-90)" text-anchor="middle" class="tt" font-size="13.9">FWHM (degree)</text>
<text x="380" y="590.7" class="tt" font-size="13.3">2θ(degree)</text>
<text x="314" y="424.5" class="pl" font-size="12.3">(f)</text>
<path d="M324.8 771.1V741.3M339.7 771.1V728M389.3 771.1V731.9M421 771.1V721.7M431 771.1V715.7M502.9 771.1V695.5M514.3 771.1V715.2" stroke="#666" stroke-width="1.0" fill="none"/>
<rect x="302.8" y="609.3" width="217" height="161.8" fill="none" stroke="#404040" stroke-width="1.3"/>
<path d="M326.91 771.1v-3.2M375.13 771.1v-3.2M423.36 771.1v-3.2M471.58 771.1v-3.2M519.8 771.1v-3.2M351.02 771.1v-2.2M399.24 771.1v-2.2M447.47 771.1v-2.2M495.69 771.1v-2.2" stroke="#404040" stroke-width="1" fill="none"/>
<text x="326.91" y="782.3" class="tl" text-anchor="middle">40</text>
<text x="375.13" y="782.3" class="tl" text-anchor="middle">60</text>
<text x="423.36" y="782.3" class="tl" text-anchor="middle">80</text>
<text x="471.58" y="782.3" class="tl" text-anchor="middle">100</text>
<text x="519.8" y="782.3" class="tl" text-anchor="middle">120</text>
<path d="M302.8 771.1h3.2M302.8 738.74h3.2M302.8 706.38h3.2M302.8 674.02h3.2M302.8 641.66h3.2M302.8 609.3h3.2M302.8 754.92h2.2M302.8 722.56h2.2M302.8 690.2h2.2M302.8 657.84h2.2M302.8 625.48h2.2" stroke="#404040" stroke-width="1" fill="none"/>
<text x="299.2" y="774.3" class="tl" text-anchor="end">0.<tspan dx="1.6">0</tspan></text>
<text x="299.2" y="741.94" class="tl" text-anchor="end">0.<tspan dx="1.6">2</tspan></text>
<text x="299.2" y="709.58" class="tl" text-anchor="end">0.<tspan dx="1.6">4</tspan></text>
<text x="299.2" y="677.22" class="tl" text-anchor="end">0.<tspan dx="1.6">6</tspan></text>
<text x="299.2" y="644.86" class="tl" text-anchor="end">0.<tspan dx="1.6">8</tspan></text>
<text x="299.2" y="612.5" class="tl" text-anchor="end">1.<tspan dx="1.6">0</tspan></text>
<text transform="translate(282.6,678.25) rotate(-90)" text-anchor="middle" class="tt" font-size="14.3">FWHM (degree)</text>
<text x="380.6" y="795.9" class="tt" font-size="13.8"><tspan>2θ</tspan><tspan>(</tspan><tspan>degree</tspan><tspan font-size="10.5" font-weight="normal">)</tspan></text>
<text x="311.3" y="625.2" class="pl" font-size="12.3">(h)</text>
</svg>
</body></html>
